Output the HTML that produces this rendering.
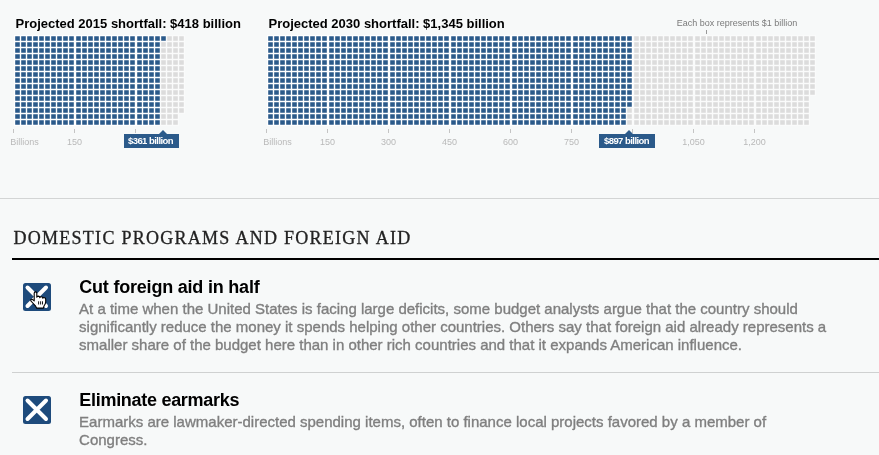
<!DOCTYPE html>
<html><head><meta charset="utf-8"><title>Budget Puzzle</title>
<style>
html,body{margin:0;padding:0;}
body{width:879px;height:455px;overflow:hidden;background:#f7f9f9;position:relative;font-family:"Liberation Sans",sans-serif;}
.charts{position:absolute;left:0;top:0;}
.t{position:absolute;top:16px;font-weight:bold;font-size:13px;line-height:16px;color:#000;white-space:nowrap;}
.note{position:absolute;left:676.8px;top:18px;font-size:9px;line-height:11px;color:#7a7a7a;white-space:nowrap;}
.ax{position:absolute;top:137px;font-size:9px;line-height:11px;color:#b9b9b9;white-space:nowrap;}
.ax.c{transform:translateX(-50%);}
.flag{position:absolute;top:134px;height:14px;background:#2b5a8a;color:#fff;font-weight:bold;font-size:9.5px;line-height:14px;letter-spacing:-0.55px;text-indent:-2px;text-align:center;white-space:nowrap;}
.flag i{position:absolute;top:-4px;width:0;height:0;border-left:4px solid transparent;border-right:4px solid transparent;border-bottom:4px solid #2b5a8a;}
.hr1{position:absolute;left:0;top:198px;width:879px;height:1px;background:#d3d5d5;}
h2{position:absolute;left:13.5px;top:228px;margin:0;font-family:"Liberation Serif",serif;font-weight:normal;font-size:18px;line-height:20px;letter-spacing:1.27px;color:#222;-webkit-text-stroke:0.3px #222;white-space:nowrap;}
.hr2{position:absolute;left:12px;top:258px;width:867px;height:2px;background:#000;}
.hr3{position:absolute;left:12px;top:372px;width:867px;height:1px;background:#cfd1d1;}
.icon{position:absolute;left:23px;width:28px;height:28px;}
h3{position:absolute;left:79.3px;margin:0;font-size:18px;line-height:20px;font-weight:bold;color:#000;letter-spacing:-0.21px;white-space:nowrap;}
p{position:absolute;left:79.1px;margin:0;font-size:15px;line-height:18px;color:#7f7f7f;width:790px;white-space:nowrap;-webkit-text-stroke:0.35px #7f7f7f;}
</style></head><body>
<svg class="charts" width="879" height="170" viewBox="0 0 879 170">
<path d="M14 35h7v7h-7zM14 41h7v7h-7zM14 47h7v7h-7zM14 53h7v7h-7zM14 59h7v7h-7zM14 65h7v7h-7zM14 71h7v7h-7zM14 77h7v7h-7zM14 83h7v7h-7zM14 89h7v7h-7zM14 95h7v7h-7zM14 101h7v7h-7zM14 107h7v7h-7zM14 113h7v7h-7zM14 119h7v7h-7zM20 35h7v7h-7zM20 41h7v7h-7zM20 47h7v7h-7zM20 53h7v7h-7zM20 59h7v7h-7zM20 65h7v7h-7zM20 71h7v7h-7zM20 77h7v7h-7zM20 83h7v7h-7zM20 89h7v7h-7zM20 95h7v7h-7zM20 101h7v7h-7zM20 107h7v7h-7zM20 113h7v7h-7zM20 119h7v7h-7zM26 35h7v7h-7zM26 41h7v7h-7zM26 47h7v7h-7zM26 53h7v7h-7zM26 59h7v7h-7zM26 65h7v7h-7zM26 71h7v7h-7zM26 77h7v7h-7zM26 83h7v7h-7zM26 89h7v7h-7zM26 95h7v7h-7zM26 101h7v7h-7zM26 107h7v7h-7zM26 113h7v7h-7zM26 119h7v7h-7zM32 35h7v7h-7zM32 41h7v7h-7zM32 47h7v7h-7zM32 53h7v7h-7zM32 59h7v7h-7zM32 65h7v7h-7zM32 71h7v7h-7zM32 77h7v7h-7zM32 83h7v7h-7zM32 89h7v7h-7zM32 95h7v7h-7zM32 101h7v7h-7zM32 107h7v7h-7zM32 113h7v7h-7zM32 119h7v7h-7zM38 35h7v7h-7zM38 41h7v7h-7zM38 47h7v7h-7zM38 53h7v7h-7zM38 59h7v7h-7zM38 65h7v7h-7zM38 71h7v7h-7zM38 77h7v7h-7zM38 83h7v7h-7zM38 89h7v7h-7zM38 95h7v7h-7zM38 101h7v7h-7zM38 107h7v7h-7zM38 113h7v7h-7zM38 119h7v7h-7zM44 35h7v7h-7zM44 41h7v7h-7zM44 47h7v7h-7zM44 53h7v7h-7zM44 59h7v7h-7zM44 65h7v7h-7zM44 71h7v7h-7zM44 77h7v7h-7zM44 83h7v7h-7zM44 89h7v7h-7zM44 95h7v7h-7zM44 101h7v7h-7zM44 107h7v7h-7zM44 113h7v7h-7zM44 119h7v7h-7zM50 35h7v7h-7zM50 41h7v7h-7zM50 47h7v7h-7zM50 53h7v7h-7zM50 59h7v7h-7zM50 65h7v7h-7zM50 71h7v7h-7zM50 77h7v7h-7zM50 83h7v7h-7zM50 89h7v7h-7zM50 95h7v7h-7zM50 101h7v7h-7zM50 107h7v7h-7zM50 113h7v7h-7zM50 119h7v7h-7zM56 35h7v7h-7zM56 41h7v7h-7zM56 47h7v7h-7zM56 53h7v7h-7zM56 59h7v7h-7zM56 65h7v7h-7zM56 71h7v7h-7zM56 77h7v7h-7zM56 83h7v7h-7zM56 89h7v7h-7zM56 95h7v7h-7zM56 101h7v7h-7zM56 107h7v7h-7zM56 113h7v7h-7zM56 119h7v7h-7zM62 35h7v7h-7zM62 41h7v7h-7zM62 47h7v7h-7zM62 53h7v7h-7zM62 59h7v7h-7zM62 65h7v7h-7zM62 71h7v7h-7zM62 77h7v7h-7zM62 83h7v7h-7zM62 89h7v7h-7zM62 95h7v7h-7zM62 101h7v7h-7zM62 107h7v7h-7zM62 113h7v7h-7zM62 119h7v7h-7zM68 35h7v7h-7zM68 41h7v7h-7zM68 47h7v7h-7zM68 53h7v7h-7zM68 59h7v7h-7zM68 65h7v7h-7zM68 71h7v7h-7zM68 77h7v7h-7zM68 83h7v7h-7zM68 89h7v7h-7zM68 95h7v7h-7zM68 101h7v7h-7zM68 107h7v7h-7zM68 113h7v7h-7zM68 119h7v7h-7zM75 35h7v7h-7zM75 41h7v7h-7zM75 47h7v7h-7zM75 53h7v7h-7zM75 59h7v7h-7zM75 65h7v7h-7zM75 71h7v7h-7zM75 77h7v7h-7zM75 83h7v7h-7zM75 89h7v7h-7zM75 95h7v7h-7zM75 101h7v7h-7zM75 107h7v7h-7zM75 113h7v7h-7zM75 119h7v7h-7zM81 35h7v7h-7zM81 41h7v7h-7zM81 47h7v7h-7zM81 53h7v7h-7zM81 59h7v7h-7zM81 65h7v7h-7zM81 71h7v7h-7zM81 77h7v7h-7zM81 83h7v7h-7zM81 89h7v7h-7zM81 95h7v7h-7zM81 101h7v7h-7zM81 107h7v7h-7zM81 113h7v7h-7zM81 119h7v7h-7zM87 35h7v7h-7zM87 41h7v7h-7zM87 47h7v7h-7zM87 53h7v7h-7zM87 59h7v7h-7zM87 65h7v7h-7zM87 71h7v7h-7zM87 77h7v7h-7zM87 83h7v7h-7zM87 89h7v7h-7zM87 95h7v7h-7zM87 101h7v7h-7zM87 107h7v7h-7zM87 113h7v7h-7zM87 119h7v7h-7zM93 35h7v7h-7zM93 41h7v7h-7zM93 47h7v7h-7zM93 53h7v7h-7zM93 59h7v7h-7zM93 65h7v7h-7zM93 71h7v7h-7zM93 77h7v7h-7zM93 83h7v7h-7zM93 89h7v7h-7zM93 95h7v7h-7zM93 101h7v7h-7zM93 107h7v7h-7zM93 113h7v7h-7zM93 119h7v7h-7zM99 35h7v7h-7zM99 41h7v7h-7zM99 47h7v7h-7zM99 53h7v7h-7zM99 59h7v7h-7zM99 65h7v7h-7zM99 71h7v7h-7zM99 77h7v7h-7zM99 83h7v7h-7zM99 89h7v7h-7zM99 95h7v7h-7zM99 101h7v7h-7zM99 107h7v7h-7zM99 113h7v7h-7zM99 119h7v7h-7zM105 35h7v7h-7zM105 41h7v7h-7zM105 47h7v7h-7zM105 53h7v7h-7zM105 59h7v7h-7zM105 65h7v7h-7zM105 71h7v7h-7zM105 77h7v7h-7zM105 83h7v7h-7zM105 89h7v7h-7zM105 95h7v7h-7zM105 101h7v7h-7zM105 107h7v7h-7zM105 113h7v7h-7zM105 119h7v7h-7zM111 35h7v7h-7zM111 41h7v7h-7zM111 47h7v7h-7zM111 53h7v7h-7zM111 59h7v7h-7zM111 65h7v7h-7zM111 71h7v7h-7zM111 77h7v7h-7zM111 83h7v7h-7zM111 89h7v7h-7zM111 95h7v7h-7zM111 101h7v7h-7zM111 107h7v7h-7zM111 113h7v7h-7zM111 119h7v7h-7zM117 35h7v7h-7zM117 41h7v7h-7zM117 47h7v7h-7zM117 53h7v7h-7zM117 59h7v7h-7zM117 65h7v7h-7zM117 71h7v7h-7zM117 77h7v7h-7zM117 83h7v7h-7zM117 89h7v7h-7zM117 95h7v7h-7zM117 101h7v7h-7zM117 107h7v7h-7zM117 113h7v7h-7zM117 119h7v7h-7zM123 35h7v7h-7zM123 41h7v7h-7zM123 47h7v7h-7zM123 53h7v7h-7zM123 59h7v7h-7zM123 65h7v7h-7zM123 71h7v7h-7zM123 77h7v7h-7zM123 83h7v7h-7zM123 89h7v7h-7zM123 95h7v7h-7zM123 101h7v7h-7zM123 107h7v7h-7zM123 113h7v7h-7zM123 119h7v7h-7zM129 35h7v7h-7zM129 41h7v7h-7zM129 47h7v7h-7zM129 53h7v7h-7zM129 59h7v7h-7zM129 65h7v7h-7zM129 71h7v7h-7zM129 77h7v7h-7zM129 83h7v7h-7zM129 89h7v7h-7zM129 95h7v7h-7zM129 101h7v7h-7zM129 107h7v7h-7zM129 113h7v7h-7zM129 119h7v7h-7zM136 35h7v7h-7zM136 41h7v7h-7zM136 47h7v7h-7zM136 53h7v7h-7zM136 59h7v7h-7zM136 65h7v7h-7zM136 71h7v7h-7zM136 77h7v7h-7zM136 83h7v7h-7zM136 89h7v7h-7zM136 95h7v7h-7zM136 101h7v7h-7zM136 107h7v7h-7zM136 113h7v7h-7zM136 119h7v7h-7zM142 35h7v7h-7zM142 41h7v7h-7zM142 47h7v7h-7zM142 53h7v7h-7zM142 59h7v7h-7zM142 65h7v7h-7zM142 71h7v7h-7zM142 77h7v7h-7zM142 83h7v7h-7zM142 89h7v7h-7zM142 95h7v7h-7zM142 101h7v7h-7zM142 107h7v7h-7zM142 113h7v7h-7zM142 119h7v7h-7zM148 35h7v7h-7zM148 41h7v7h-7zM148 47h7v7h-7zM148 53h7v7h-7zM148 59h7v7h-7zM148 65h7v7h-7zM148 71h7v7h-7zM148 77h7v7h-7zM148 83h7v7h-7zM148 89h7v7h-7zM148 95h7v7h-7zM148 101h7v7h-7zM148 107h7v7h-7zM148 113h7v7h-7zM148 119h7v7h-7zM154 35h7v7h-7zM154 41h7v7h-7zM154 47h7v7h-7zM154 53h7v7h-7zM154 59h7v7h-7zM154 65h7v7h-7zM154 71h7v7h-7zM154 77h7v7h-7zM154 83h7v7h-7zM154 89h7v7h-7zM154 95h7v7h-7zM154 101h7v7h-7zM154 107h7v7h-7zM154 113h7v7h-7zM154 119h7v7h-7zM160 35h7v7h-7z" fill="#ffffff"/>
<path d="M160 41h7v7h-7zM160 47h7v7h-7zM160 53h7v7h-7zM160 59h7v7h-7zM160 65h7v7h-7zM160 71h7v7h-7zM160 77h7v7h-7zM160 83h7v7h-7zM160 89h7v7h-7zM160 95h7v7h-7zM160 101h7v7h-7zM160 107h7v7h-7zM160 113h7v7h-7zM160 119h7v7h-7zM166 35h7v7h-7zM166 41h7v7h-7zM166 47h7v7h-7zM166 53h7v7h-7zM166 59h7v7h-7zM166 65h7v7h-7zM166 71h7v7h-7zM166 77h7v7h-7zM166 83h7v7h-7zM166 89h7v7h-7zM166 95h7v7h-7zM166 101h7v7h-7zM166 107h7v7h-7zM166 113h7v7h-7zM166 119h7v7h-7zM172 35h7v7h-7zM172 41h7v7h-7zM172 47h7v7h-7zM172 53h7v7h-7zM172 59h7v7h-7zM172 65h7v7h-7zM172 71h7v7h-7zM172 77h7v7h-7zM172 83h7v7h-7zM172 89h7v7h-7zM172 95h7v7h-7zM172 101h7v7h-7zM172 107h7v7h-7zM172 113h7v7h-7zM172 119h7v7h-7zM178 35h7v7h-7zM178 41h7v7h-7zM178 47h7v7h-7zM178 53h7v7h-7zM178 59h7v7h-7zM178 65h7v7h-7zM178 71h7v7h-7zM178 77h7v7h-7zM178 83h7v7h-7zM178 89h7v7h-7zM178 95h7v7h-7zM178 101h7v7h-7zM178 107h7v7h-7z" fill="#fafbfb"/>
<path d="M15.2 36.2h4.6v4.6h-4.6zM15.2 42.2h4.6v4.6h-4.6zM15.2 48.2h4.6v4.6h-4.6zM15.2 54.2h4.6v4.6h-4.6zM15.2 60.2h4.6v4.6h-4.6zM15.2 66.2h4.6v4.6h-4.6zM15.2 72.2h4.6v4.6h-4.6zM15.2 78.2h4.6v4.6h-4.6zM15.2 84.2h4.6v4.6h-4.6zM15.2 90.2h4.6v4.6h-4.6zM15.2 96.2h4.6v4.6h-4.6zM15.2 102.2h4.6v4.6h-4.6zM15.2 108.2h4.6v4.6h-4.6zM15.2 114.2h4.6v4.6h-4.6zM15.2 120.2h4.6v4.6h-4.6zM21.2 36.2h4.6v4.6h-4.6zM21.2 42.2h4.6v4.6h-4.6zM21.2 48.2h4.6v4.6h-4.6zM21.2 54.2h4.6v4.6h-4.6zM21.2 60.2h4.6v4.6h-4.6zM21.2 66.2h4.6v4.6h-4.6zM21.2 72.2h4.6v4.6h-4.6zM21.2 78.2h4.6v4.6h-4.6zM21.2 84.2h4.6v4.6h-4.6zM21.2 90.2h4.6v4.6h-4.6zM21.2 96.2h4.6v4.6h-4.6zM21.2 102.2h4.6v4.6h-4.6zM21.2 108.2h4.6v4.6h-4.6zM21.2 114.2h4.6v4.6h-4.6zM21.2 120.2h4.6v4.6h-4.6zM27.2 36.2h4.6v4.6h-4.6zM27.2 42.2h4.6v4.6h-4.6zM27.2 48.2h4.6v4.6h-4.6zM27.2 54.2h4.6v4.6h-4.6zM27.2 60.2h4.6v4.6h-4.6zM27.2 66.2h4.6v4.6h-4.6zM27.2 72.2h4.6v4.6h-4.6zM27.2 78.2h4.6v4.6h-4.6zM27.2 84.2h4.6v4.6h-4.6zM27.2 90.2h4.6v4.6h-4.6zM27.2 96.2h4.6v4.6h-4.6zM27.2 102.2h4.6v4.6h-4.6zM27.2 108.2h4.6v4.6h-4.6zM27.2 114.2h4.6v4.6h-4.6zM27.2 120.2h4.6v4.6h-4.6zM33.2 36.2h4.6v4.6h-4.6zM33.2 42.2h4.6v4.6h-4.6zM33.2 48.2h4.6v4.6h-4.6zM33.2 54.2h4.6v4.6h-4.6zM33.2 60.2h4.6v4.6h-4.6zM33.2 66.2h4.6v4.6h-4.6zM33.2 72.2h4.6v4.6h-4.6zM33.2 78.2h4.6v4.6h-4.6zM33.2 84.2h4.6v4.6h-4.6zM33.2 90.2h4.6v4.6h-4.6zM33.2 96.2h4.6v4.6h-4.6zM33.2 102.2h4.6v4.6h-4.6zM33.2 108.2h4.6v4.6h-4.6zM33.2 114.2h4.6v4.6h-4.6zM33.2 120.2h4.6v4.6h-4.6zM39.2 36.2h4.6v4.6h-4.6zM39.2 42.2h4.6v4.6h-4.6zM39.2 48.2h4.6v4.6h-4.6zM39.2 54.2h4.6v4.6h-4.6zM39.2 60.2h4.6v4.6h-4.6zM39.2 66.2h4.6v4.6h-4.6zM39.2 72.2h4.6v4.6h-4.6zM39.2 78.2h4.6v4.6h-4.6zM39.2 84.2h4.6v4.6h-4.6zM39.2 90.2h4.6v4.6h-4.6zM39.2 96.2h4.6v4.6h-4.6zM39.2 102.2h4.6v4.6h-4.6zM39.2 108.2h4.6v4.6h-4.6zM39.2 114.2h4.6v4.6h-4.6zM39.2 120.2h4.6v4.6h-4.6zM45.2 36.2h4.6v4.6h-4.6zM45.2 42.2h4.6v4.6h-4.6zM45.2 48.2h4.6v4.6h-4.6zM45.2 54.2h4.6v4.6h-4.6zM45.2 60.2h4.6v4.6h-4.6zM45.2 66.2h4.6v4.6h-4.6zM45.2 72.2h4.6v4.6h-4.6zM45.2 78.2h4.6v4.6h-4.6zM45.2 84.2h4.6v4.6h-4.6zM45.2 90.2h4.6v4.6h-4.6zM45.2 96.2h4.6v4.6h-4.6zM45.2 102.2h4.6v4.6h-4.6zM45.2 108.2h4.6v4.6h-4.6zM45.2 114.2h4.6v4.6h-4.6zM45.2 120.2h4.6v4.6h-4.6zM51.2 36.2h4.6v4.6h-4.6zM51.2 42.2h4.6v4.6h-4.6zM51.2 48.2h4.6v4.6h-4.6zM51.2 54.2h4.6v4.6h-4.6zM51.2 60.2h4.6v4.6h-4.6zM51.2 66.2h4.6v4.6h-4.6zM51.2 72.2h4.6v4.6h-4.6zM51.2 78.2h4.6v4.6h-4.6zM51.2 84.2h4.6v4.6h-4.6zM51.2 90.2h4.6v4.6h-4.6zM51.2 96.2h4.6v4.6h-4.6zM51.2 102.2h4.6v4.6h-4.6zM51.2 108.2h4.6v4.6h-4.6zM51.2 114.2h4.6v4.6h-4.6zM51.2 120.2h4.6v4.6h-4.6zM57.2 36.2h4.6v4.6h-4.6zM57.2 42.2h4.6v4.6h-4.6zM57.2 48.2h4.6v4.6h-4.6zM57.2 54.2h4.6v4.6h-4.6zM57.2 60.2h4.6v4.6h-4.6zM57.2 66.2h4.6v4.6h-4.6zM57.2 72.2h4.6v4.6h-4.6zM57.2 78.2h4.6v4.6h-4.6zM57.2 84.2h4.6v4.6h-4.6zM57.2 90.2h4.6v4.6h-4.6zM57.2 96.2h4.6v4.6h-4.6zM57.2 102.2h4.6v4.6h-4.6zM57.2 108.2h4.6v4.6h-4.6zM57.2 114.2h4.6v4.6h-4.6zM57.2 120.2h4.6v4.6h-4.6zM63.2 36.2h4.6v4.6h-4.6zM63.2 42.2h4.6v4.6h-4.6zM63.2 48.2h4.6v4.6h-4.6zM63.2 54.2h4.6v4.6h-4.6zM63.2 60.2h4.6v4.6h-4.6zM63.2 66.2h4.6v4.6h-4.6zM63.2 72.2h4.6v4.6h-4.6zM63.2 78.2h4.6v4.6h-4.6zM63.2 84.2h4.6v4.6h-4.6zM63.2 90.2h4.6v4.6h-4.6zM63.2 96.2h4.6v4.6h-4.6zM63.2 102.2h4.6v4.6h-4.6zM63.2 108.2h4.6v4.6h-4.6zM63.2 114.2h4.6v4.6h-4.6zM63.2 120.2h4.6v4.6h-4.6zM69.2 36.2h4.6v4.6h-4.6zM69.2 42.2h4.6v4.6h-4.6zM69.2 48.2h4.6v4.6h-4.6zM69.2 54.2h4.6v4.6h-4.6zM69.2 60.2h4.6v4.6h-4.6zM69.2 66.2h4.6v4.6h-4.6zM69.2 72.2h4.6v4.6h-4.6zM69.2 78.2h4.6v4.6h-4.6zM69.2 84.2h4.6v4.6h-4.6zM69.2 90.2h4.6v4.6h-4.6zM69.2 96.2h4.6v4.6h-4.6zM69.2 102.2h4.6v4.6h-4.6zM69.2 108.2h4.6v4.6h-4.6zM69.2 114.2h4.6v4.6h-4.6zM69.2 120.2h4.6v4.6h-4.6zM76.2 36.2h4.6v4.6h-4.6zM76.2 42.2h4.6v4.6h-4.6zM76.2 48.2h4.6v4.6h-4.6zM76.2 54.2h4.6v4.6h-4.6zM76.2 60.2h4.6v4.6h-4.6zM76.2 66.2h4.6v4.6h-4.6zM76.2 72.2h4.6v4.6h-4.6zM76.2 78.2h4.6v4.6h-4.6zM76.2 84.2h4.6v4.6h-4.6zM76.2 90.2h4.6v4.6h-4.6zM76.2 96.2h4.6v4.6h-4.6zM76.2 102.2h4.6v4.6h-4.6zM76.2 108.2h4.6v4.6h-4.6zM76.2 114.2h4.6v4.6h-4.6zM76.2 120.2h4.6v4.6h-4.6zM82.2 36.2h4.6v4.6h-4.6zM82.2 42.2h4.6v4.6h-4.6zM82.2 48.2h4.6v4.6h-4.6zM82.2 54.2h4.6v4.6h-4.6zM82.2 60.2h4.6v4.6h-4.6zM82.2 66.2h4.6v4.6h-4.6zM82.2 72.2h4.6v4.6h-4.6zM82.2 78.2h4.6v4.6h-4.6zM82.2 84.2h4.6v4.6h-4.6zM82.2 90.2h4.6v4.6h-4.6zM82.2 96.2h4.6v4.6h-4.6zM82.2 102.2h4.6v4.6h-4.6zM82.2 108.2h4.6v4.6h-4.6zM82.2 114.2h4.6v4.6h-4.6zM82.2 120.2h4.6v4.6h-4.6zM88.2 36.2h4.6v4.6h-4.6zM88.2 42.2h4.6v4.6h-4.6zM88.2 48.2h4.6v4.6h-4.6zM88.2 54.2h4.6v4.6h-4.6zM88.2 60.2h4.6v4.6h-4.6zM88.2 66.2h4.6v4.6h-4.6zM88.2 72.2h4.6v4.6h-4.6zM88.2 78.2h4.6v4.6h-4.6zM88.2 84.2h4.6v4.6h-4.6zM88.2 90.2h4.6v4.6h-4.6zM88.2 96.2h4.6v4.6h-4.6zM88.2 102.2h4.6v4.6h-4.6zM88.2 108.2h4.6v4.6h-4.6zM88.2 114.2h4.6v4.6h-4.6zM88.2 120.2h4.6v4.6h-4.6zM94.2 36.2h4.6v4.6h-4.6zM94.2 42.2h4.6v4.6h-4.6zM94.2 48.2h4.6v4.6h-4.6zM94.2 54.2h4.6v4.6h-4.6zM94.2 60.2h4.6v4.6h-4.6zM94.2 66.2h4.6v4.6h-4.6zM94.2 72.2h4.6v4.6h-4.6zM94.2 78.2h4.6v4.6h-4.6zM94.2 84.2h4.6v4.6h-4.6zM94.2 90.2h4.6v4.6h-4.6zM94.2 96.2h4.6v4.6h-4.6zM94.2 102.2h4.6v4.6h-4.6zM94.2 108.2h4.6v4.6h-4.6zM94.2 114.2h4.6v4.6h-4.6zM94.2 120.2h4.6v4.6h-4.6zM100.2 36.2h4.6v4.6h-4.6zM100.2 42.2h4.6v4.6h-4.6zM100.2 48.2h4.6v4.6h-4.6zM100.2 54.2h4.6v4.6h-4.6zM100.2 60.2h4.6v4.6h-4.6zM100.2 66.2h4.6v4.6h-4.6zM100.2 72.2h4.6v4.6h-4.6zM100.2 78.2h4.6v4.6h-4.6zM100.2 84.2h4.6v4.6h-4.6zM100.2 90.2h4.6v4.6h-4.6zM100.2 96.2h4.6v4.6h-4.6zM100.2 102.2h4.6v4.6h-4.6zM100.2 108.2h4.6v4.6h-4.6zM100.2 114.2h4.6v4.6h-4.6zM100.2 120.2h4.6v4.6h-4.6zM106.2 36.2h4.6v4.6h-4.6zM106.2 42.2h4.6v4.6h-4.6zM106.2 48.2h4.6v4.6h-4.6zM106.2 54.2h4.6v4.6h-4.6zM106.2 60.2h4.6v4.6h-4.6zM106.2 66.2h4.6v4.6h-4.6zM106.2 72.2h4.6v4.6h-4.6zM106.2 78.2h4.6v4.6h-4.6zM106.2 84.2h4.6v4.6h-4.6zM106.2 90.2h4.6v4.6h-4.6zM106.2 96.2h4.6v4.6h-4.6zM106.2 102.2h4.6v4.6h-4.6zM106.2 108.2h4.6v4.6h-4.6zM106.2 114.2h4.6v4.6h-4.6zM106.2 120.2h4.6v4.6h-4.6zM112.2 36.2h4.6v4.6h-4.6zM112.2 42.2h4.6v4.6h-4.6zM112.2 48.2h4.6v4.6h-4.6zM112.2 54.2h4.6v4.6h-4.6zM112.2 60.2h4.6v4.6h-4.6zM112.2 66.2h4.6v4.6h-4.6zM112.2 72.2h4.6v4.6h-4.6zM112.2 78.2h4.6v4.6h-4.6zM112.2 84.2h4.6v4.6h-4.6zM112.2 90.2h4.6v4.6h-4.6zM112.2 96.2h4.6v4.6h-4.6zM112.2 102.2h4.6v4.6h-4.6zM112.2 108.2h4.6v4.6h-4.6zM112.2 114.2h4.6v4.6h-4.6zM112.2 120.2h4.6v4.6h-4.6zM118.2 36.2h4.6v4.6h-4.6zM118.2 42.2h4.6v4.6h-4.6zM118.2 48.2h4.6v4.6h-4.6zM118.2 54.2h4.6v4.6h-4.6zM118.2 60.2h4.6v4.6h-4.6zM118.2 66.2h4.6v4.6h-4.6zM118.2 72.2h4.6v4.6h-4.6zM118.2 78.2h4.6v4.6h-4.6zM118.2 84.2h4.6v4.6h-4.6zM118.2 90.2h4.6v4.6h-4.6zM118.2 96.2h4.6v4.6h-4.6zM118.2 102.2h4.6v4.6h-4.6zM118.2 108.2h4.6v4.6h-4.6zM118.2 114.2h4.6v4.6h-4.6zM118.2 120.2h4.6v4.6h-4.6zM124.2 36.2h4.6v4.6h-4.6zM124.2 42.2h4.6v4.6h-4.6zM124.2 48.2h4.6v4.6h-4.6zM124.2 54.2h4.6v4.6h-4.6zM124.2 60.2h4.6v4.6h-4.6zM124.2 66.2h4.6v4.6h-4.6zM124.2 72.2h4.6v4.6h-4.6zM124.2 78.2h4.6v4.6h-4.6zM124.2 84.2h4.6v4.6h-4.6zM124.2 90.2h4.6v4.6h-4.6zM124.2 96.2h4.6v4.6h-4.6zM124.2 102.2h4.6v4.6h-4.6zM124.2 108.2h4.6v4.6h-4.6zM124.2 114.2h4.6v4.6h-4.6zM124.2 120.2h4.6v4.6h-4.6zM130.2 36.2h4.6v4.6h-4.6zM130.2 42.2h4.6v4.6h-4.6zM130.2 48.2h4.6v4.6h-4.6zM130.2 54.2h4.6v4.6h-4.6zM130.2 60.2h4.6v4.6h-4.6zM130.2 66.2h4.6v4.6h-4.6zM130.2 72.2h4.6v4.6h-4.6zM130.2 78.2h4.6v4.6h-4.6zM130.2 84.2h4.6v4.6h-4.6zM130.2 90.2h4.6v4.6h-4.6zM130.2 96.2h4.6v4.6h-4.6zM130.2 102.2h4.6v4.6h-4.6zM130.2 108.2h4.6v4.6h-4.6zM130.2 114.2h4.6v4.6h-4.6zM130.2 120.2h4.6v4.6h-4.6zM137.2 36.2h4.6v4.6h-4.6zM137.2 42.2h4.6v4.6h-4.6zM137.2 48.2h4.6v4.6h-4.6zM137.2 54.2h4.6v4.6h-4.6zM137.2 60.2h4.6v4.6h-4.6zM137.2 66.2h4.6v4.6h-4.6zM137.2 72.2h4.6v4.6h-4.6zM137.2 78.2h4.6v4.6h-4.6zM137.2 84.2h4.6v4.6h-4.6zM137.2 90.2h4.6v4.6h-4.6zM137.2 96.2h4.6v4.6h-4.6zM137.2 102.2h4.6v4.6h-4.6zM137.2 108.2h4.6v4.6h-4.6zM137.2 114.2h4.6v4.6h-4.6zM137.2 120.2h4.6v4.6h-4.6zM143.2 36.2h4.6v4.6h-4.6zM143.2 42.2h4.6v4.6h-4.6zM143.2 48.2h4.6v4.6h-4.6zM143.2 54.2h4.6v4.6h-4.6zM143.2 60.2h4.6v4.6h-4.6zM143.2 66.2h4.6v4.6h-4.6zM143.2 72.2h4.6v4.6h-4.6zM143.2 78.2h4.6v4.6h-4.6zM143.2 84.2h4.6v4.6h-4.6zM143.2 90.2h4.6v4.6h-4.6zM143.2 96.2h4.6v4.6h-4.6zM143.2 102.2h4.6v4.6h-4.6zM143.2 108.2h4.6v4.6h-4.6zM143.2 114.2h4.6v4.6h-4.6zM143.2 120.2h4.6v4.6h-4.6zM149.2 36.2h4.6v4.6h-4.6zM149.2 42.2h4.6v4.6h-4.6zM149.2 48.2h4.6v4.6h-4.6zM149.2 54.2h4.6v4.6h-4.6zM149.2 60.2h4.6v4.6h-4.6zM149.2 66.2h4.6v4.6h-4.6zM149.2 72.2h4.6v4.6h-4.6zM149.2 78.2h4.6v4.6h-4.6zM149.2 84.2h4.6v4.6h-4.6zM149.2 90.2h4.6v4.6h-4.6zM149.2 96.2h4.6v4.6h-4.6zM149.2 102.2h4.6v4.6h-4.6zM149.2 108.2h4.6v4.6h-4.6zM149.2 114.2h4.6v4.6h-4.6zM149.2 120.2h4.6v4.6h-4.6zM155.2 36.2h4.6v4.6h-4.6zM155.2 42.2h4.6v4.6h-4.6zM155.2 48.2h4.6v4.6h-4.6zM155.2 54.2h4.6v4.6h-4.6zM155.2 60.2h4.6v4.6h-4.6zM155.2 66.2h4.6v4.6h-4.6zM155.2 72.2h4.6v4.6h-4.6zM155.2 78.2h4.6v4.6h-4.6zM155.2 84.2h4.6v4.6h-4.6zM155.2 90.2h4.6v4.6h-4.6zM155.2 96.2h4.6v4.6h-4.6zM155.2 102.2h4.6v4.6h-4.6zM155.2 108.2h4.6v4.6h-4.6zM155.2 114.2h4.6v4.6h-4.6zM155.2 120.2h4.6v4.6h-4.6zM161.2 36.2h4.6v4.6h-4.6z" fill="#2b5a8a"/>
<path d="M161.2 42.2h4.6v4.6h-4.6zM161.2 48.2h4.6v4.6h-4.6zM161.2 54.2h4.6v4.6h-4.6zM161.2 60.2h4.6v4.6h-4.6zM161.2 66.2h4.6v4.6h-4.6zM161.2 72.2h4.6v4.6h-4.6zM161.2 78.2h4.6v4.6h-4.6zM161.2 84.2h4.6v4.6h-4.6zM161.2 90.2h4.6v4.6h-4.6zM161.2 96.2h4.6v4.6h-4.6zM161.2 102.2h4.6v4.6h-4.6zM161.2 108.2h4.6v4.6h-4.6zM161.2 114.2h4.6v4.6h-4.6zM161.2 120.2h4.6v4.6h-4.6zM167.2 36.2h4.6v4.6h-4.6zM167.2 42.2h4.6v4.6h-4.6zM167.2 48.2h4.6v4.6h-4.6zM167.2 54.2h4.6v4.6h-4.6zM167.2 60.2h4.6v4.6h-4.6zM167.2 66.2h4.6v4.6h-4.6zM167.2 72.2h4.6v4.6h-4.6zM167.2 78.2h4.6v4.6h-4.6zM167.2 84.2h4.6v4.6h-4.6zM167.2 90.2h4.6v4.6h-4.6zM167.2 96.2h4.6v4.6h-4.6zM167.2 102.2h4.6v4.6h-4.6zM167.2 108.2h4.6v4.6h-4.6zM167.2 114.2h4.6v4.6h-4.6zM167.2 120.2h4.6v4.6h-4.6zM173.2 36.2h4.6v4.6h-4.6zM173.2 42.2h4.6v4.6h-4.6zM173.2 48.2h4.6v4.6h-4.6zM173.2 54.2h4.6v4.6h-4.6zM173.2 60.2h4.6v4.6h-4.6zM173.2 66.2h4.6v4.6h-4.6zM173.2 72.2h4.6v4.6h-4.6zM173.2 78.2h4.6v4.6h-4.6zM173.2 84.2h4.6v4.6h-4.6zM173.2 90.2h4.6v4.6h-4.6zM173.2 96.2h4.6v4.6h-4.6zM173.2 102.2h4.6v4.6h-4.6zM173.2 108.2h4.6v4.6h-4.6zM173.2 114.2h4.6v4.6h-4.6zM173.2 120.2h4.6v4.6h-4.6zM179.2 36.2h4.6v4.6h-4.6zM179.2 42.2h4.6v4.6h-4.6zM179.2 48.2h4.6v4.6h-4.6zM179.2 54.2h4.6v4.6h-4.6zM179.2 60.2h4.6v4.6h-4.6zM179.2 66.2h4.6v4.6h-4.6zM179.2 72.2h4.6v4.6h-4.6zM179.2 78.2h4.6v4.6h-4.6zM179.2 84.2h4.6v4.6h-4.6zM179.2 90.2h4.6v4.6h-4.6zM179.2 96.2h4.6v4.6h-4.6zM179.2 102.2h4.6v4.6h-4.6zM179.2 108.2h4.6v4.6h-4.6z" fill="#dcdcdc"/>
<path d="M267 35h7v7h-7zM267 41h7v7h-7zM267 47h7v7h-7zM267 53h7v7h-7zM267 59h7v7h-7zM267 65h7v7h-7zM267 71h7v7h-7zM267 77h7v7h-7zM267 83h7v7h-7zM267 89h7v7h-7zM267 95h7v7h-7zM267 101h7v7h-7zM267 107h7v7h-7zM267 113h7v7h-7zM267 119h7v7h-7zM273 35h7v7h-7zM273 41h7v7h-7zM273 47h7v7h-7zM273 53h7v7h-7zM273 59h7v7h-7zM273 65h7v7h-7zM273 71h7v7h-7zM273 77h7v7h-7zM273 83h7v7h-7zM273 89h7v7h-7zM273 95h7v7h-7zM273 101h7v7h-7zM273 107h7v7h-7zM273 113h7v7h-7zM273 119h7v7h-7zM279 35h7v7h-7zM279 41h7v7h-7zM279 47h7v7h-7zM279 53h7v7h-7zM279 59h7v7h-7zM279 65h7v7h-7zM279 71h7v7h-7zM279 77h7v7h-7zM279 83h7v7h-7zM279 89h7v7h-7zM279 95h7v7h-7zM279 101h7v7h-7zM279 107h7v7h-7zM279 113h7v7h-7zM279 119h7v7h-7zM285 35h7v7h-7zM285 41h7v7h-7zM285 47h7v7h-7zM285 53h7v7h-7zM285 59h7v7h-7zM285 65h7v7h-7zM285 71h7v7h-7zM285 77h7v7h-7zM285 83h7v7h-7zM285 89h7v7h-7zM285 95h7v7h-7zM285 101h7v7h-7zM285 107h7v7h-7zM285 113h7v7h-7zM285 119h7v7h-7zM291 35h7v7h-7zM291 41h7v7h-7zM291 47h7v7h-7zM291 53h7v7h-7zM291 59h7v7h-7zM291 65h7v7h-7zM291 71h7v7h-7zM291 77h7v7h-7zM291 83h7v7h-7zM291 89h7v7h-7zM291 95h7v7h-7zM291 101h7v7h-7zM291 107h7v7h-7zM291 113h7v7h-7zM291 119h7v7h-7zM297 35h7v7h-7zM297 41h7v7h-7zM297 47h7v7h-7zM297 53h7v7h-7zM297 59h7v7h-7zM297 65h7v7h-7zM297 71h7v7h-7zM297 77h7v7h-7zM297 83h7v7h-7zM297 89h7v7h-7zM297 95h7v7h-7zM297 101h7v7h-7zM297 107h7v7h-7zM297 113h7v7h-7zM297 119h7v7h-7zM303 35h7v7h-7zM303 41h7v7h-7zM303 47h7v7h-7zM303 53h7v7h-7zM303 59h7v7h-7zM303 65h7v7h-7zM303 71h7v7h-7zM303 77h7v7h-7zM303 83h7v7h-7zM303 89h7v7h-7zM303 95h7v7h-7zM303 101h7v7h-7zM303 107h7v7h-7zM303 113h7v7h-7zM303 119h7v7h-7zM309 35h7v7h-7zM309 41h7v7h-7zM309 47h7v7h-7zM309 53h7v7h-7zM309 59h7v7h-7zM309 65h7v7h-7zM309 71h7v7h-7zM309 77h7v7h-7zM309 83h7v7h-7zM309 89h7v7h-7zM309 95h7v7h-7zM309 101h7v7h-7zM309 107h7v7h-7zM309 113h7v7h-7zM309 119h7v7h-7zM315 35h7v7h-7zM315 41h7v7h-7zM315 47h7v7h-7zM315 53h7v7h-7zM315 59h7v7h-7zM315 65h7v7h-7zM315 71h7v7h-7zM315 77h7v7h-7zM315 83h7v7h-7zM315 89h7v7h-7zM315 95h7v7h-7zM315 101h7v7h-7zM315 107h7v7h-7zM315 113h7v7h-7zM315 119h7v7h-7zM321 35h7v7h-7zM321 41h7v7h-7zM321 47h7v7h-7zM321 53h7v7h-7zM321 59h7v7h-7zM321 65h7v7h-7zM321 71h7v7h-7zM321 77h7v7h-7zM321 83h7v7h-7zM321 89h7v7h-7zM321 95h7v7h-7zM321 101h7v7h-7zM321 107h7v7h-7zM321 113h7v7h-7zM321 119h7v7h-7zM328 35h7v7h-7zM328 41h7v7h-7zM328 47h7v7h-7zM328 53h7v7h-7zM328 59h7v7h-7zM328 65h7v7h-7zM328 71h7v7h-7zM328 77h7v7h-7zM328 83h7v7h-7zM328 89h7v7h-7zM328 95h7v7h-7zM328 101h7v7h-7zM328 107h7v7h-7zM328 113h7v7h-7zM328 119h7v7h-7zM334 35h7v7h-7zM334 41h7v7h-7zM334 47h7v7h-7zM334 53h7v7h-7zM334 59h7v7h-7zM334 65h7v7h-7zM334 71h7v7h-7zM334 77h7v7h-7zM334 83h7v7h-7zM334 89h7v7h-7zM334 95h7v7h-7zM334 101h7v7h-7zM334 107h7v7h-7zM334 113h7v7h-7zM334 119h7v7h-7zM340 35h7v7h-7zM340 41h7v7h-7zM340 47h7v7h-7zM340 53h7v7h-7zM340 59h7v7h-7zM340 65h7v7h-7zM340 71h7v7h-7zM340 77h7v7h-7zM340 83h7v7h-7zM340 89h7v7h-7zM340 95h7v7h-7zM340 101h7v7h-7zM340 107h7v7h-7zM340 113h7v7h-7zM340 119h7v7h-7zM346 35h7v7h-7zM346 41h7v7h-7zM346 47h7v7h-7zM346 53h7v7h-7zM346 59h7v7h-7zM346 65h7v7h-7zM346 71h7v7h-7zM346 77h7v7h-7zM346 83h7v7h-7zM346 89h7v7h-7zM346 95h7v7h-7zM346 101h7v7h-7zM346 107h7v7h-7zM346 113h7v7h-7zM346 119h7v7h-7zM352 35h7v7h-7zM352 41h7v7h-7zM352 47h7v7h-7zM352 53h7v7h-7zM352 59h7v7h-7zM352 65h7v7h-7zM352 71h7v7h-7zM352 77h7v7h-7zM352 83h7v7h-7zM352 89h7v7h-7zM352 95h7v7h-7zM352 101h7v7h-7zM352 107h7v7h-7zM352 113h7v7h-7zM352 119h7v7h-7zM358 35h7v7h-7zM358 41h7v7h-7zM358 47h7v7h-7zM358 53h7v7h-7zM358 59h7v7h-7zM358 65h7v7h-7zM358 71h7v7h-7zM358 77h7v7h-7zM358 83h7v7h-7zM358 89h7v7h-7zM358 95h7v7h-7zM358 101h7v7h-7zM358 107h7v7h-7zM358 113h7v7h-7zM358 119h7v7h-7zM364 35h7v7h-7zM364 41h7v7h-7zM364 47h7v7h-7zM364 53h7v7h-7zM364 59h7v7h-7zM364 65h7v7h-7zM364 71h7v7h-7zM364 77h7v7h-7zM364 83h7v7h-7zM364 89h7v7h-7zM364 95h7v7h-7zM364 101h7v7h-7zM364 107h7v7h-7zM364 113h7v7h-7zM364 119h7v7h-7zM370 35h7v7h-7zM370 41h7v7h-7zM370 47h7v7h-7zM370 53h7v7h-7zM370 59h7v7h-7zM370 65h7v7h-7zM370 71h7v7h-7zM370 77h7v7h-7zM370 83h7v7h-7zM370 89h7v7h-7zM370 95h7v7h-7zM370 101h7v7h-7zM370 107h7v7h-7zM370 113h7v7h-7zM370 119h7v7h-7zM376 35h7v7h-7zM376 41h7v7h-7zM376 47h7v7h-7zM376 53h7v7h-7zM376 59h7v7h-7zM376 65h7v7h-7zM376 71h7v7h-7zM376 77h7v7h-7zM376 83h7v7h-7zM376 89h7v7h-7zM376 95h7v7h-7zM376 101h7v7h-7zM376 107h7v7h-7zM376 113h7v7h-7zM376 119h7v7h-7zM382 35h7v7h-7zM382 41h7v7h-7zM382 47h7v7h-7zM382 53h7v7h-7zM382 59h7v7h-7zM382 65h7v7h-7zM382 71h7v7h-7zM382 77h7v7h-7zM382 83h7v7h-7zM382 89h7v7h-7zM382 95h7v7h-7zM382 101h7v7h-7zM382 107h7v7h-7zM382 113h7v7h-7zM382 119h7v7h-7zM389 35h7v7h-7zM389 41h7v7h-7zM389 47h7v7h-7zM389 53h7v7h-7zM389 59h7v7h-7zM389 65h7v7h-7zM389 71h7v7h-7zM389 77h7v7h-7zM389 83h7v7h-7zM389 89h7v7h-7zM389 95h7v7h-7zM389 101h7v7h-7zM389 107h7v7h-7zM389 113h7v7h-7zM389 119h7v7h-7zM395 35h7v7h-7zM395 41h7v7h-7zM395 47h7v7h-7zM395 53h7v7h-7zM395 59h7v7h-7zM395 65h7v7h-7zM395 71h7v7h-7zM395 77h7v7h-7zM395 83h7v7h-7zM395 89h7v7h-7zM395 95h7v7h-7zM395 101h7v7h-7zM395 107h7v7h-7zM395 113h7v7h-7zM395 119h7v7h-7zM401 35h7v7h-7zM401 41h7v7h-7zM401 47h7v7h-7zM401 53h7v7h-7zM401 59h7v7h-7zM401 65h7v7h-7zM401 71h7v7h-7zM401 77h7v7h-7zM401 83h7v7h-7zM401 89h7v7h-7zM401 95h7v7h-7zM401 101h7v7h-7zM401 107h7v7h-7zM401 113h7v7h-7zM401 119h7v7h-7zM407 35h7v7h-7zM407 41h7v7h-7zM407 47h7v7h-7zM407 53h7v7h-7zM407 59h7v7h-7zM407 65h7v7h-7zM407 71h7v7h-7zM407 77h7v7h-7zM407 83h7v7h-7zM407 89h7v7h-7zM407 95h7v7h-7zM407 101h7v7h-7zM407 107h7v7h-7zM407 113h7v7h-7zM407 119h7v7h-7zM413 35h7v7h-7zM413 41h7v7h-7zM413 47h7v7h-7zM413 53h7v7h-7zM413 59h7v7h-7zM413 65h7v7h-7zM413 71h7v7h-7zM413 77h7v7h-7zM413 83h7v7h-7zM413 89h7v7h-7zM413 95h7v7h-7zM413 101h7v7h-7zM413 107h7v7h-7zM413 113h7v7h-7zM413 119h7v7h-7zM419 35h7v7h-7zM419 41h7v7h-7zM419 47h7v7h-7zM419 53h7v7h-7zM419 59h7v7h-7zM419 65h7v7h-7zM419 71h7v7h-7zM419 77h7v7h-7zM419 83h7v7h-7zM419 89h7v7h-7zM419 95h7v7h-7zM419 101h7v7h-7zM419 107h7v7h-7zM419 113h7v7h-7zM419 119h7v7h-7zM425 35h7v7h-7zM425 41h7v7h-7zM425 47h7v7h-7zM425 53h7v7h-7zM425 59h7v7h-7zM425 65h7v7h-7zM425 71h7v7h-7zM425 77h7v7h-7zM425 83h7v7h-7zM425 89h7v7h-7zM425 95h7v7h-7zM425 101h7v7h-7zM425 107h7v7h-7zM425 113h7v7h-7zM425 119h7v7h-7zM431 35h7v7h-7zM431 41h7v7h-7zM431 47h7v7h-7zM431 53h7v7h-7zM431 59h7v7h-7zM431 65h7v7h-7zM431 71h7v7h-7zM431 77h7v7h-7zM431 83h7v7h-7zM431 89h7v7h-7zM431 95h7v7h-7zM431 101h7v7h-7zM431 107h7v7h-7zM431 113h7v7h-7zM431 119h7v7h-7zM437 35h7v7h-7zM437 41h7v7h-7zM437 47h7v7h-7zM437 53h7v7h-7zM437 59h7v7h-7zM437 65h7v7h-7zM437 71h7v7h-7zM437 77h7v7h-7zM437 83h7v7h-7zM437 89h7v7h-7zM437 95h7v7h-7zM437 101h7v7h-7zM437 107h7v7h-7zM437 113h7v7h-7zM437 119h7v7h-7zM443 35h7v7h-7zM443 41h7v7h-7zM443 47h7v7h-7zM443 53h7v7h-7zM443 59h7v7h-7zM443 65h7v7h-7zM443 71h7v7h-7zM443 77h7v7h-7zM443 83h7v7h-7zM443 89h7v7h-7zM443 95h7v7h-7zM443 101h7v7h-7zM443 107h7v7h-7zM443 113h7v7h-7zM443 119h7v7h-7zM450 35h7v7h-7zM450 41h7v7h-7zM450 47h7v7h-7zM450 53h7v7h-7zM450 59h7v7h-7zM450 65h7v7h-7zM450 71h7v7h-7zM450 77h7v7h-7zM450 83h7v7h-7zM450 89h7v7h-7zM450 95h7v7h-7zM450 101h7v7h-7zM450 107h7v7h-7zM450 113h7v7h-7zM450 119h7v7h-7zM456 35h7v7h-7zM456 41h7v7h-7zM456 47h7v7h-7zM456 53h7v7h-7zM456 59h7v7h-7zM456 65h7v7h-7zM456 71h7v7h-7zM456 77h7v7h-7zM456 83h7v7h-7zM456 89h7v7h-7zM456 95h7v7h-7zM456 101h7v7h-7zM456 107h7v7h-7zM456 113h7v7h-7zM456 119h7v7h-7zM462 35h7v7h-7zM462 41h7v7h-7zM462 47h7v7h-7zM462 53h7v7h-7zM462 59h7v7h-7zM462 65h7v7h-7zM462 71h7v7h-7zM462 77h7v7h-7zM462 83h7v7h-7zM462 89h7v7h-7zM462 95h7v7h-7zM462 101h7v7h-7zM462 107h7v7h-7zM462 113h7v7h-7zM462 119h7v7h-7zM468 35h7v7h-7zM468 41h7v7h-7zM468 47h7v7h-7zM468 53h7v7h-7zM468 59h7v7h-7zM468 65h7v7h-7zM468 71h7v7h-7zM468 77h7v7h-7zM468 83h7v7h-7zM468 89h7v7h-7zM468 95h7v7h-7zM468 101h7v7h-7zM468 107h7v7h-7zM468 113h7v7h-7zM468 119h7v7h-7zM474 35h7v7h-7zM474 41h7v7h-7zM474 47h7v7h-7zM474 53h7v7h-7zM474 59h7v7h-7zM474 65h7v7h-7zM474 71h7v7h-7zM474 77h7v7h-7zM474 83h7v7h-7zM474 89h7v7h-7zM474 95h7v7h-7zM474 101h7v7h-7zM474 107h7v7h-7zM474 113h7v7h-7zM474 119h7v7h-7zM480 35h7v7h-7zM480 41h7v7h-7zM480 47h7v7h-7zM480 53h7v7h-7zM480 59h7v7h-7zM480 65h7v7h-7zM480 71h7v7h-7zM480 77h7v7h-7zM480 83h7v7h-7zM480 89h7v7h-7zM480 95h7v7h-7zM480 101h7v7h-7zM480 107h7v7h-7zM480 113h7v7h-7zM480 119h7v7h-7zM486 35h7v7h-7zM486 41h7v7h-7zM486 47h7v7h-7zM486 53h7v7h-7zM486 59h7v7h-7zM486 65h7v7h-7zM486 71h7v7h-7zM486 77h7v7h-7zM486 83h7v7h-7zM486 89h7v7h-7zM486 95h7v7h-7zM486 101h7v7h-7zM486 107h7v7h-7zM486 113h7v7h-7zM486 119h7v7h-7zM492 35h7v7h-7zM492 41h7v7h-7zM492 47h7v7h-7zM492 53h7v7h-7zM492 59h7v7h-7zM492 65h7v7h-7zM492 71h7v7h-7zM492 77h7v7h-7zM492 83h7v7h-7zM492 89h7v7h-7zM492 95h7v7h-7zM492 101h7v7h-7zM492 107h7v7h-7zM492 113h7v7h-7zM492 119h7v7h-7zM498 35h7v7h-7zM498 41h7v7h-7zM498 47h7v7h-7zM498 53h7v7h-7zM498 59h7v7h-7zM498 65h7v7h-7zM498 71h7v7h-7zM498 77h7v7h-7zM498 83h7v7h-7zM498 89h7v7h-7zM498 95h7v7h-7zM498 101h7v7h-7zM498 107h7v7h-7zM498 113h7v7h-7zM498 119h7v7h-7zM504 35h7v7h-7zM504 41h7v7h-7zM504 47h7v7h-7zM504 53h7v7h-7zM504 59h7v7h-7zM504 65h7v7h-7zM504 71h7v7h-7zM504 77h7v7h-7zM504 83h7v7h-7zM504 89h7v7h-7zM504 95h7v7h-7zM504 101h7v7h-7zM504 107h7v7h-7zM504 113h7v7h-7zM504 119h7v7h-7zM511 35h7v7h-7zM511 41h7v7h-7zM511 47h7v7h-7zM511 53h7v7h-7zM511 59h7v7h-7zM511 65h7v7h-7zM511 71h7v7h-7zM511 77h7v7h-7zM511 83h7v7h-7zM511 89h7v7h-7zM511 95h7v7h-7zM511 101h7v7h-7zM511 107h7v7h-7zM511 113h7v7h-7zM511 119h7v7h-7zM517 35h7v7h-7zM517 41h7v7h-7zM517 47h7v7h-7zM517 53h7v7h-7zM517 59h7v7h-7zM517 65h7v7h-7zM517 71h7v7h-7zM517 77h7v7h-7zM517 83h7v7h-7zM517 89h7v7h-7zM517 95h7v7h-7zM517 101h7v7h-7zM517 107h7v7h-7zM517 113h7v7h-7zM517 119h7v7h-7zM523 35h7v7h-7zM523 41h7v7h-7zM523 47h7v7h-7zM523 53h7v7h-7zM523 59h7v7h-7zM523 65h7v7h-7zM523 71h7v7h-7zM523 77h7v7h-7zM523 83h7v7h-7zM523 89h7v7h-7zM523 95h7v7h-7zM523 101h7v7h-7zM523 107h7v7h-7zM523 113h7v7h-7zM523 119h7v7h-7zM529 35h7v7h-7zM529 41h7v7h-7zM529 47h7v7h-7zM529 53h7v7h-7zM529 59h7v7h-7zM529 65h7v7h-7zM529 71h7v7h-7zM529 77h7v7h-7zM529 83h7v7h-7zM529 89h7v7h-7zM529 95h7v7h-7zM529 101h7v7h-7zM529 107h7v7h-7zM529 113h7v7h-7zM529 119h7v7h-7zM535 35h7v7h-7zM535 41h7v7h-7zM535 47h7v7h-7zM535 53h7v7h-7zM535 59h7v7h-7zM535 65h7v7h-7zM535 71h7v7h-7zM535 77h7v7h-7zM535 83h7v7h-7zM535 89h7v7h-7zM535 95h7v7h-7zM535 101h7v7h-7zM535 107h7v7h-7zM535 113h7v7h-7zM535 119h7v7h-7zM541 35h7v7h-7zM541 41h7v7h-7zM541 47h7v7h-7zM541 53h7v7h-7zM541 59h7v7h-7zM541 65h7v7h-7zM541 71h7v7h-7zM541 77h7v7h-7zM541 83h7v7h-7zM541 89h7v7h-7zM541 95h7v7h-7zM541 101h7v7h-7zM541 107h7v7h-7zM541 113h7v7h-7zM541 119h7v7h-7zM547 35h7v7h-7zM547 41h7v7h-7zM547 47h7v7h-7zM547 53h7v7h-7zM547 59h7v7h-7zM547 65h7v7h-7zM547 71h7v7h-7zM547 77h7v7h-7zM547 83h7v7h-7zM547 89h7v7h-7zM547 95h7v7h-7zM547 101h7v7h-7zM547 107h7v7h-7zM547 113h7v7h-7zM547 119h7v7h-7zM553 35h7v7h-7zM553 41h7v7h-7zM553 47h7v7h-7zM553 53h7v7h-7zM553 59h7v7h-7zM553 65h7v7h-7zM553 71h7v7h-7zM553 77h7v7h-7zM553 83h7v7h-7zM553 89h7v7h-7zM553 95h7v7h-7zM553 101h7v7h-7zM553 107h7v7h-7zM553 113h7v7h-7zM553 119h7v7h-7zM559 35h7v7h-7zM559 41h7v7h-7zM559 47h7v7h-7zM559 53h7v7h-7zM559 59h7v7h-7zM559 65h7v7h-7zM559 71h7v7h-7zM559 77h7v7h-7zM559 83h7v7h-7zM559 89h7v7h-7zM559 95h7v7h-7zM559 101h7v7h-7zM559 107h7v7h-7zM559 113h7v7h-7zM559 119h7v7h-7zM565 35h7v7h-7zM565 41h7v7h-7zM565 47h7v7h-7zM565 53h7v7h-7zM565 59h7v7h-7zM565 65h7v7h-7zM565 71h7v7h-7zM565 77h7v7h-7zM565 83h7v7h-7zM565 89h7v7h-7zM565 95h7v7h-7zM565 101h7v7h-7zM565 107h7v7h-7zM565 113h7v7h-7zM565 119h7v7h-7zM572 35h7v7h-7zM572 41h7v7h-7zM572 47h7v7h-7zM572 53h7v7h-7zM572 59h7v7h-7zM572 65h7v7h-7zM572 71h7v7h-7zM572 77h7v7h-7zM572 83h7v7h-7zM572 89h7v7h-7zM572 95h7v7h-7zM572 101h7v7h-7zM572 107h7v7h-7zM572 113h7v7h-7zM572 119h7v7h-7zM578 35h7v7h-7zM578 41h7v7h-7zM578 47h7v7h-7zM578 53h7v7h-7zM578 59h7v7h-7zM578 65h7v7h-7zM578 71h7v7h-7zM578 77h7v7h-7zM578 83h7v7h-7zM578 89h7v7h-7zM578 95h7v7h-7zM578 101h7v7h-7zM578 107h7v7h-7zM578 113h7v7h-7zM578 119h7v7h-7zM584 35h7v7h-7zM584 41h7v7h-7zM584 47h7v7h-7zM584 53h7v7h-7zM584 59h7v7h-7zM584 65h7v7h-7zM584 71h7v7h-7zM584 77h7v7h-7zM584 83h7v7h-7zM584 89h7v7h-7zM584 95h7v7h-7zM584 101h7v7h-7zM584 107h7v7h-7zM584 113h7v7h-7zM584 119h7v7h-7zM590 35h7v7h-7zM590 41h7v7h-7zM590 47h7v7h-7zM590 53h7v7h-7zM590 59h7v7h-7zM590 65h7v7h-7zM590 71h7v7h-7zM590 77h7v7h-7zM590 83h7v7h-7zM590 89h7v7h-7zM590 95h7v7h-7zM590 101h7v7h-7zM590 107h7v7h-7zM590 113h7v7h-7zM590 119h7v7h-7zM596 35h7v7h-7zM596 41h7v7h-7zM596 47h7v7h-7zM596 53h7v7h-7zM596 59h7v7h-7zM596 65h7v7h-7zM596 71h7v7h-7zM596 77h7v7h-7zM596 83h7v7h-7zM596 89h7v7h-7zM596 95h7v7h-7zM596 101h7v7h-7zM596 107h7v7h-7zM596 113h7v7h-7zM596 119h7v7h-7zM602 35h7v7h-7zM602 41h7v7h-7zM602 47h7v7h-7zM602 53h7v7h-7zM602 59h7v7h-7zM602 65h7v7h-7zM602 71h7v7h-7zM602 77h7v7h-7zM602 83h7v7h-7zM602 89h7v7h-7zM602 95h7v7h-7zM602 101h7v7h-7zM602 107h7v7h-7zM602 113h7v7h-7zM602 119h7v7h-7zM608 35h7v7h-7zM608 41h7v7h-7zM608 47h7v7h-7zM608 53h7v7h-7zM608 59h7v7h-7zM608 65h7v7h-7zM608 71h7v7h-7zM608 77h7v7h-7zM608 83h7v7h-7zM608 89h7v7h-7zM608 95h7v7h-7zM608 101h7v7h-7zM608 107h7v7h-7zM608 113h7v7h-7zM608 119h7v7h-7zM614 35h7v7h-7zM614 41h7v7h-7zM614 47h7v7h-7zM614 53h7v7h-7zM614 59h7v7h-7zM614 65h7v7h-7zM614 71h7v7h-7zM614 77h7v7h-7zM614 83h7v7h-7zM614 89h7v7h-7zM614 95h7v7h-7zM614 101h7v7h-7zM614 107h7v7h-7zM614 113h7v7h-7zM614 119h7v7h-7zM620 35h7v7h-7zM620 41h7v7h-7zM620 47h7v7h-7zM620 53h7v7h-7zM620 59h7v7h-7zM620 65h7v7h-7zM620 71h7v7h-7zM620 77h7v7h-7zM620 83h7v7h-7zM620 89h7v7h-7zM620 95h7v7h-7zM620 101h7v7h-7zM620 107h7v7h-7zM620 113h7v7h-7zM620 119h7v7h-7zM626 35h7v7h-7zM626 41h7v7h-7zM626 47h7v7h-7zM626 53h7v7h-7zM626 59h7v7h-7zM626 65h7v7h-7zM626 71h7v7h-7zM626 77h7v7h-7zM626 83h7v7h-7zM626 89h7v7h-7zM626 95h7v7h-7zM626 101h7v7h-7z" fill="#ffffff"/>
<path d="M626 107h7v7h-7zM626 113h7v7h-7zM626 119h7v7h-7zM633 35h7v7h-7zM633 41h7v7h-7zM633 47h7v7h-7zM633 53h7v7h-7zM633 59h7v7h-7zM633 65h7v7h-7zM633 71h7v7h-7zM633 77h7v7h-7zM633 83h7v7h-7zM633 89h7v7h-7zM633 95h7v7h-7zM633 101h7v7h-7zM633 107h7v7h-7zM633 113h7v7h-7zM633 119h7v7h-7zM639 35h7v7h-7zM639 41h7v7h-7zM639 47h7v7h-7zM639 53h7v7h-7zM639 59h7v7h-7zM639 65h7v7h-7zM639 71h7v7h-7zM639 77h7v7h-7zM639 83h7v7h-7zM639 89h7v7h-7zM639 95h7v7h-7zM639 101h7v7h-7zM639 107h7v7h-7zM639 113h7v7h-7zM639 119h7v7h-7zM645 35h7v7h-7zM645 41h7v7h-7zM645 47h7v7h-7zM645 53h7v7h-7zM645 59h7v7h-7zM645 65h7v7h-7zM645 71h7v7h-7zM645 77h7v7h-7zM645 83h7v7h-7zM645 89h7v7h-7zM645 95h7v7h-7zM645 101h7v7h-7zM645 107h7v7h-7zM645 113h7v7h-7zM645 119h7v7h-7zM651 35h7v7h-7zM651 41h7v7h-7zM651 47h7v7h-7zM651 53h7v7h-7zM651 59h7v7h-7zM651 65h7v7h-7zM651 71h7v7h-7zM651 77h7v7h-7zM651 83h7v7h-7zM651 89h7v7h-7zM651 95h7v7h-7zM651 101h7v7h-7zM651 107h7v7h-7zM651 113h7v7h-7zM651 119h7v7h-7zM657 35h7v7h-7zM657 41h7v7h-7zM657 47h7v7h-7zM657 53h7v7h-7zM657 59h7v7h-7zM657 65h7v7h-7zM657 71h7v7h-7zM657 77h7v7h-7zM657 83h7v7h-7zM657 89h7v7h-7zM657 95h7v7h-7zM657 101h7v7h-7zM657 107h7v7h-7zM657 113h7v7h-7zM657 119h7v7h-7zM663 35h7v7h-7zM663 41h7v7h-7zM663 47h7v7h-7zM663 53h7v7h-7zM663 59h7v7h-7zM663 65h7v7h-7zM663 71h7v7h-7zM663 77h7v7h-7zM663 83h7v7h-7zM663 89h7v7h-7zM663 95h7v7h-7zM663 101h7v7h-7zM663 107h7v7h-7zM663 113h7v7h-7zM663 119h7v7h-7zM669 35h7v7h-7zM669 41h7v7h-7zM669 47h7v7h-7zM669 53h7v7h-7zM669 59h7v7h-7zM669 65h7v7h-7zM669 71h7v7h-7zM669 77h7v7h-7zM669 83h7v7h-7zM669 89h7v7h-7zM669 95h7v7h-7zM669 101h7v7h-7zM669 107h7v7h-7zM669 113h7v7h-7zM669 119h7v7h-7zM675 35h7v7h-7zM675 41h7v7h-7zM675 47h7v7h-7zM675 53h7v7h-7zM675 59h7v7h-7zM675 65h7v7h-7zM675 71h7v7h-7zM675 77h7v7h-7zM675 83h7v7h-7zM675 89h7v7h-7zM675 95h7v7h-7zM675 101h7v7h-7zM675 107h7v7h-7zM675 113h7v7h-7zM675 119h7v7h-7zM681 35h7v7h-7zM681 41h7v7h-7zM681 47h7v7h-7zM681 53h7v7h-7zM681 59h7v7h-7zM681 65h7v7h-7zM681 71h7v7h-7zM681 77h7v7h-7zM681 83h7v7h-7zM681 89h7v7h-7zM681 95h7v7h-7zM681 101h7v7h-7zM681 107h7v7h-7zM681 113h7v7h-7zM681 119h7v7h-7zM687 35h7v7h-7zM687 41h7v7h-7zM687 47h7v7h-7zM687 53h7v7h-7zM687 59h7v7h-7zM687 65h7v7h-7zM687 71h7v7h-7zM687 77h7v7h-7zM687 83h7v7h-7zM687 89h7v7h-7zM687 95h7v7h-7zM687 101h7v7h-7zM687 107h7v7h-7zM687 113h7v7h-7zM687 119h7v7h-7zM694 35h7v7h-7zM694 41h7v7h-7zM694 47h7v7h-7zM694 53h7v7h-7zM694 59h7v7h-7zM694 65h7v7h-7zM694 71h7v7h-7zM694 77h7v7h-7zM694 83h7v7h-7zM694 89h7v7h-7zM694 95h7v7h-7zM694 101h7v7h-7zM694 107h7v7h-7zM694 113h7v7h-7zM694 119h7v7h-7zM700 35h7v7h-7zM700 41h7v7h-7zM700 47h7v7h-7zM700 53h7v7h-7zM700 59h7v7h-7zM700 65h7v7h-7zM700 71h7v7h-7zM700 77h7v7h-7zM700 83h7v7h-7zM700 89h7v7h-7zM700 95h7v7h-7zM700 101h7v7h-7zM700 107h7v7h-7zM700 113h7v7h-7zM700 119h7v7h-7zM706 35h7v7h-7zM706 41h7v7h-7zM706 47h7v7h-7zM706 53h7v7h-7zM706 59h7v7h-7zM706 65h7v7h-7zM706 71h7v7h-7zM706 77h7v7h-7zM706 83h7v7h-7zM706 89h7v7h-7zM706 95h7v7h-7zM706 101h7v7h-7zM706 107h7v7h-7zM706 113h7v7h-7zM706 119h7v7h-7zM712 35h7v7h-7zM712 41h7v7h-7zM712 47h7v7h-7zM712 53h7v7h-7zM712 59h7v7h-7zM712 65h7v7h-7zM712 71h7v7h-7zM712 77h7v7h-7zM712 83h7v7h-7zM712 89h7v7h-7zM712 95h7v7h-7zM712 101h7v7h-7zM712 107h7v7h-7zM712 113h7v7h-7zM712 119h7v7h-7zM718 35h7v7h-7zM718 41h7v7h-7zM718 47h7v7h-7zM718 53h7v7h-7zM718 59h7v7h-7zM718 65h7v7h-7zM718 71h7v7h-7zM718 77h7v7h-7zM718 83h7v7h-7zM718 89h7v7h-7zM718 95h7v7h-7zM718 101h7v7h-7zM718 107h7v7h-7zM718 113h7v7h-7zM718 119h7v7h-7zM724 35h7v7h-7zM724 41h7v7h-7zM724 47h7v7h-7zM724 53h7v7h-7zM724 59h7v7h-7zM724 65h7v7h-7zM724 71h7v7h-7zM724 77h7v7h-7zM724 83h7v7h-7zM724 89h7v7h-7zM724 95h7v7h-7zM724 101h7v7h-7zM724 107h7v7h-7zM724 113h7v7h-7zM724 119h7v7h-7zM730 35h7v7h-7zM730 41h7v7h-7zM730 47h7v7h-7zM730 53h7v7h-7zM730 59h7v7h-7zM730 65h7v7h-7zM730 71h7v7h-7zM730 77h7v7h-7zM730 83h7v7h-7zM730 89h7v7h-7zM730 95h7v7h-7zM730 101h7v7h-7zM730 107h7v7h-7zM730 113h7v7h-7zM730 119h7v7h-7zM736 35h7v7h-7zM736 41h7v7h-7zM736 47h7v7h-7zM736 53h7v7h-7zM736 59h7v7h-7zM736 65h7v7h-7zM736 71h7v7h-7zM736 77h7v7h-7zM736 83h7v7h-7zM736 89h7v7h-7zM736 95h7v7h-7zM736 101h7v7h-7zM736 107h7v7h-7zM736 113h7v7h-7zM736 119h7v7h-7zM742 35h7v7h-7zM742 41h7v7h-7zM742 47h7v7h-7zM742 53h7v7h-7zM742 59h7v7h-7zM742 65h7v7h-7zM742 71h7v7h-7zM742 77h7v7h-7zM742 83h7v7h-7zM742 89h7v7h-7zM742 95h7v7h-7zM742 101h7v7h-7zM742 107h7v7h-7zM742 113h7v7h-7zM742 119h7v7h-7zM748 35h7v7h-7zM748 41h7v7h-7zM748 47h7v7h-7zM748 53h7v7h-7zM748 59h7v7h-7zM748 65h7v7h-7zM748 71h7v7h-7zM748 77h7v7h-7zM748 83h7v7h-7zM748 89h7v7h-7zM748 95h7v7h-7zM748 101h7v7h-7zM748 107h7v7h-7zM748 113h7v7h-7zM748 119h7v7h-7zM755 35h7v7h-7zM755 41h7v7h-7zM755 47h7v7h-7zM755 53h7v7h-7zM755 59h7v7h-7zM755 65h7v7h-7zM755 71h7v7h-7zM755 77h7v7h-7zM755 83h7v7h-7zM755 89h7v7h-7zM755 95h7v7h-7zM755 101h7v7h-7zM755 107h7v7h-7zM755 113h7v7h-7zM755 119h7v7h-7zM761 35h7v7h-7zM761 41h7v7h-7zM761 47h7v7h-7zM761 53h7v7h-7zM761 59h7v7h-7zM761 65h7v7h-7zM761 71h7v7h-7zM761 77h7v7h-7zM761 83h7v7h-7zM761 89h7v7h-7zM761 95h7v7h-7zM761 101h7v7h-7zM761 107h7v7h-7zM761 113h7v7h-7zM761 119h7v7h-7zM767 35h7v7h-7zM767 41h7v7h-7zM767 47h7v7h-7zM767 53h7v7h-7zM767 59h7v7h-7zM767 65h7v7h-7zM767 71h7v7h-7zM767 77h7v7h-7zM767 83h7v7h-7zM767 89h7v7h-7zM767 95h7v7h-7zM767 101h7v7h-7zM767 107h7v7h-7zM767 113h7v7h-7zM767 119h7v7h-7zM773 35h7v7h-7zM773 41h7v7h-7zM773 47h7v7h-7zM773 53h7v7h-7zM773 59h7v7h-7zM773 65h7v7h-7zM773 71h7v7h-7zM773 77h7v7h-7zM773 83h7v7h-7zM773 89h7v7h-7zM773 95h7v7h-7zM773 101h7v7h-7zM773 107h7v7h-7zM773 113h7v7h-7zM773 119h7v7h-7zM779 35h7v7h-7zM779 41h7v7h-7zM779 47h7v7h-7zM779 53h7v7h-7zM779 59h7v7h-7zM779 65h7v7h-7zM779 71h7v7h-7zM779 77h7v7h-7zM779 83h7v7h-7zM779 89h7v7h-7zM779 95h7v7h-7zM779 101h7v7h-7zM779 107h7v7h-7zM779 113h7v7h-7zM779 119h7v7h-7zM785 35h7v7h-7zM785 41h7v7h-7zM785 47h7v7h-7zM785 53h7v7h-7zM785 59h7v7h-7zM785 65h7v7h-7zM785 71h7v7h-7zM785 77h7v7h-7zM785 83h7v7h-7zM785 89h7v7h-7zM785 95h7v7h-7zM785 101h7v7h-7zM785 107h7v7h-7zM785 113h7v7h-7zM785 119h7v7h-7zM791 35h7v7h-7zM791 41h7v7h-7zM791 47h7v7h-7zM791 53h7v7h-7zM791 59h7v7h-7zM791 65h7v7h-7zM791 71h7v7h-7zM791 77h7v7h-7zM791 83h7v7h-7zM791 89h7v7h-7zM791 95h7v7h-7zM791 101h7v7h-7zM791 107h7v7h-7zM791 113h7v7h-7zM791 119h7v7h-7zM797 35h7v7h-7zM797 41h7v7h-7zM797 47h7v7h-7zM797 53h7v7h-7zM797 59h7v7h-7zM797 65h7v7h-7zM797 71h7v7h-7zM797 77h7v7h-7zM797 83h7v7h-7zM797 89h7v7h-7zM797 95h7v7h-7zM797 101h7v7h-7zM797 107h7v7h-7zM797 113h7v7h-7zM797 119h7v7h-7zM803 35h7v7h-7zM803 41h7v7h-7zM803 47h7v7h-7zM803 53h7v7h-7zM803 59h7v7h-7zM803 65h7v7h-7zM803 71h7v7h-7zM803 77h7v7h-7zM803 83h7v7h-7zM803 89h7v7h-7zM803 95h7v7h-7zM803 101h7v7h-7zM803 107h7v7h-7zM803 113h7v7h-7zM803 119h7v7h-7zM809 35h7v7h-7zM809 41h7v7h-7zM809 47h7v7h-7zM809 53h7v7h-7zM809 59h7v7h-7zM809 65h7v7h-7zM809 71h7v7h-7zM809 77h7v7h-7zM809 83h7v7h-7zM809 89h7v7h-7z" fill="#fafbfb"/>
<path d="M268.2 36.2h4.6v4.6h-4.6zM268.2 42.2h4.6v4.6h-4.6zM268.2 48.2h4.6v4.6h-4.6zM268.2 54.2h4.6v4.6h-4.6zM268.2 60.2h4.6v4.6h-4.6zM268.2 66.2h4.6v4.6h-4.6zM268.2 72.2h4.6v4.6h-4.6zM268.2 78.2h4.6v4.6h-4.6zM268.2 84.2h4.6v4.6h-4.6zM268.2 90.2h4.6v4.6h-4.6zM268.2 96.2h4.6v4.6h-4.6zM268.2 102.2h4.6v4.6h-4.6zM268.2 108.2h4.6v4.6h-4.6zM268.2 114.2h4.6v4.6h-4.6zM268.2 120.2h4.6v4.6h-4.6zM274.2 36.2h4.6v4.6h-4.6zM274.2 42.2h4.6v4.6h-4.6zM274.2 48.2h4.6v4.6h-4.6zM274.2 54.2h4.6v4.6h-4.6zM274.2 60.2h4.6v4.6h-4.6zM274.2 66.2h4.6v4.6h-4.6zM274.2 72.2h4.6v4.6h-4.6zM274.2 78.2h4.6v4.6h-4.6zM274.2 84.2h4.6v4.6h-4.6zM274.2 90.2h4.6v4.6h-4.6zM274.2 96.2h4.6v4.6h-4.6zM274.2 102.2h4.6v4.6h-4.6zM274.2 108.2h4.6v4.6h-4.6zM274.2 114.2h4.6v4.6h-4.6zM274.2 120.2h4.6v4.6h-4.6zM280.2 36.2h4.6v4.6h-4.6zM280.2 42.2h4.6v4.6h-4.6zM280.2 48.2h4.6v4.6h-4.6zM280.2 54.2h4.6v4.6h-4.6zM280.2 60.2h4.6v4.6h-4.6zM280.2 66.2h4.6v4.6h-4.6zM280.2 72.2h4.6v4.6h-4.6zM280.2 78.2h4.6v4.6h-4.6zM280.2 84.2h4.6v4.6h-4.6zM280.2 90.2h4.6v4.6h-4.6zM280.2 96.2h4.6v4.6h-4.6zM280.2 102.2h4.6v4.6h-4.6zM280.2 108.2h4.6v4.6h-4.6zM280.2 114.2h4.6v4.6h-4.6zM280.2 120.2h4.6v4.6h-4.6zM286.2 36.2h4.6v4.6h-4.6zM286.2 42.2h4.6v4.6h-4.6zM286.2 48.2h4.6v4.6h-4.6zM286.2 54.2h4.6v4.6h-4.6zM286.2 60.2h4.6v4.6h-4.6zM286.2 66.2h4.6v4.6h-4.6zM286.2 72.2h4.6v4.6h-4.6zM286.2 78.2h4.6v4.6h-4.6zM286.2 84.2h4.6v4.6h-4.6zM286.2 90.2h4.6v4.6h-4.6zM286.2 96.2h4.6v4.6h-4.6zM286.2 102.2h4.6v4.6h-4.6zM286.2 108.2h4.6v4.6h-4.6zM286.2 114.2h4.6v4.6h-4.6zM286.2 120.2h4.6v4.6h-4.6zM292.2 36.2h4.6v4.6h-4.6zM292.2 42.2h4.6v4.6h-4.6zM292.2 48.2h4.6v4.6h-4.6zM292.2 54.2h4.6v4.6h-4.6zM292.2 60.2h4.6v4.6h-4.6zM292.2 66.2h4.6v4.6h-4.6zM292.2 72.2h4.6v4.6h-4.6zM292.2 78.2h4.6v4.6h-4.6zM292.2 84.2h4.6v4.6h-4.6zM292.2 90.2h4.6v4.6h-4.6zM292.2 96.2h4.6v4.6h-4.6zM292.2 102.2h4.6v4.6h-4.6zM292.2 108.2h4.6v4.6h-4.6zM292.2 114.2h4.6v4.6h-4.6zM292.2 120.2h4.6v4.6h-4.6zM298.2 36.2h4.6v4.6h-4.6zM298.2 42.2h4.6v4.6h-4.6zM298.2 48.2h4.6v4.6h-4.6zM298.2 54.2h4.6v4.6h-4.6zM298.2 60.2h4.6v4.6h-4.6zM298.2 66.2h4.6v4.6h-4.6zM298.2 72.2h4.6v4.6h-4.6zM298.2 78.2h4.6v4.6h-4.6zM298.2 84.2h4.6v4.6h-4.6zM298.2 90.2h4.6v4.6h-4.6zM298.2 96.2h4.6v4.6h-4.6zM298.2 102.2h4.6v4.6h-4.6zM298.2 108.2h4.6v4.6h-4.6zM298.2 114.2h4.6v4.6h-4.6zM298.2 120.2h4.6v4.6h-4.6zM304.2 36.2h4.6v4.6h-4.6zM304.2 42.2h4.6v4.6h-4.6zM304.2 48.2h4.6v4.6h-4.6zM304.2 54.2h4.6v4.6h-4.6zM304.2 60.2h4.6v4.6h-4.6zM304.2 66.2h4.6v4.6h-4.6zM304.2 72.2h4.6v4.6h-4.6zM304.2 78.2h4.6v4.6h-4.6zM304.2 84.2h4.6v4.6h-4.6zM304.2 90.2h4.6v4.6h-4.6zM304.2 96.2h4.6v4.6h-4.6zM304.2 102.2h4.6v4.6h-4.6zM304.2 108.2h4.6v4.6h-4.6zM304.2 114.2h4.6v4.6h-4.6zM304.2 120.2h4.6v4.6h-4.6zM310.2 36.2h4.6v4.6h-4.6zM310.2 42.2h4.6v4.6h-4.6zM310.2 48.2h4.6v4.6h-4.6zM310.2 54.2h4.6v4.6h-4.6zM310.2 60.2h4.6v4.6h-4.6zM310.2 66.2h4.6v4.6h-4.6zM310.2 72.2h4.6v4.6h-4.6zM310.2 78.2h4.6v4.6h-4.6zM310.2 84.2h4.6v4.6h-4.6zM310.2 90.2h4.6v4.6h-4.6zM310.2 96.2h4.6v4.6h-4.6zM310.2 102.2h4.6v4.6h-4.6zM310.2 108.2h4.6v4.6h-4.6zM310.2 114.2h4.6v4.6h-4.6zM310.2 120.2h4.6v4.6h-4.6zM316.2 36.2h4.6v4.6h-4.6zM316.2 42.2h4.6v4.6h-4.6zM316.2 48.2h4.6v4.6h-4.6zM316.2 54.2h4.6v4.6h-4.6zM316.2 60.2h4.6v4.6h-4.6zM316.2 66.2h4.6v4.6h-4.6zM316.2 72.2h4.6v4.6h-4.6zM316.2 78.2h4.6v4.6h-4.6zM316.2 84.2h4.6v4.6h-4.6zM316.2 90.2h4.6v4.6h-4.6zM316.2 96.2h4.6v4.6h-4.6zM316.2 102.2h4.6v4.6h-4.6zM316.2 108.2h4.6v4.6h-4.6zM316.2 114.2h4.6v4.6h-4.6zM316.2 120.2h4.6v4.6h-4.6zM322.2 36.2h4.6v4.6h-4.6zM322.2 42.2h4.6v4.6h-4.6zM322.2 48.2h4.6v4.6h-4.6zM322.2 54.2h4.6v4.6h-4.6zM322.2 60.2h4.6v4.6h-4.6zM322.2 66.2h4.6v4.6h-4.6zM322.2 72.2h4.6v4.6h-4.6zM322.2 78.2h4.6v4.6h-4.6zM322.2 84.2h4.6v4.6h-4.6zM322.2 90.2h4.6v4.6h-4.6zM322.2 96.2h4.6v4.6h-4.6zM322.2 102.2h4.6v4.6h-4.6zM322.2 108.2h4.6v4.6h-4.6zM322.2 114.2h4.6v4.6h-4.6zM322.2 120.2h4.6v4.6h-4.6zM329.2 36.2h4.6v4.6h-4.6zM329.2 42.2h4.6v4.6h-4.6zM329.2 48.2h4.6v4.6h-4.6zM329.2 54.2h4.6v4.6h-4.6zM329.2 60.2h4.6v4.6h-4.6zM329.2 66.2h4.6v4.6h-4.6zM329.2 72.2h4.6v4.6h-4.6zM329.2 78.2h4.6v4.6h-4.6zM329.2 84.2h4.6v4.6h-4.6zM329.2 90.2h4.6v4.6h-4.6zM329.2 96.2h4.6v4.6h-4.6zM329.2 102.2h4.6v4.6h-4.6zM329.2 108.2h4.6v4.6h-4.6zM329.2 114.2h4.6v4.6h-4.6zM329.2 120.2h4.6v4.6h-4.6zM335.2 36.2h4.6v4.6h-4.6zM335.2 42.2h4.6v4.6h-4.6zM335.2 48.2h4.6v4.6h-4.6zM335.2 54.2h4.6v4.6h-4.6zM335.2 60.2h4.6v4.6h-4.6zM335.2 66.2h4.6v4.6h-4.6zM335.2 72.2h4.6v4.6h-4.6zM335.2 78.2h4.6v4.6h-4.6zM335.2 84.2h4.6v4.6h-4.6zM335.2 90.2h4.6v4.6h-4.6zM335.2 96.2h4.6v4.6h-4.6zM335.2 102.2h4.6v4.6h-4.6zM335.2 108.2h4.6v4.6h-4.6zM335.2 114.2h4.6v4.6h-4.6zM335.2 120.2h4.6v4.6h-4.6zM341.2 36.2h4.6v4.6h-4.6zM341.2 42.2h4.6v4.6h-4.6zM341.2 48.2h4.6v4.6h-4.6zM341.2 54.2h4.6v4.6h-4.6zM341.2 60.2h4.6v4.6h-4.6zM341.2 66.2h4.6v4.6h-4.6zM341.2 72.2h4.6v4.6h-4.6zM341.2 78.2h4.6v4.6h-4.6zM341.2 84.2h4.6v4.6h-4.6zM341.2 90.2h4.6v4.6h-4.6zM341.2 96.2h4.6v4.6h-4.6zM341.2 102.2h4.6v4.6h-4.6zM341.2 108.2h4.6v4.6h-4.6zM341.2 114.2h4.6v4.6h-4.6zM341.2 120.2h4.6v4.6h-4.6zM347.2 36.2h4.6v4.6h-4.6zM347.2 42.2h4.6v4.6h-4.6zM347.2 48.2h4.6v4.6h-4.6zM347.2 54.2h4.6v4.6h-4.6zM347.2 60.2h4.6v4.6h-4.6zM347.2 66.2h4.6v4.6h-4.6zM347.2 72.2h4.6v4.6h-4.6zM347.2 78.2h4.6v4.6h-4.6zM347.2 84.2h4.6v4.6h-4.6zM347.2 90.2h4.6v4.6h-4.6zM347.2 96.2h4.6v4.6h-4.6zM347.2 102.2h4.6v4.6h-4.6zM347.2 108.2h4.6v4.6h-4.6zM347.2 114.2h4.6v4.6h-4.6zM347.2 120.2h4.6v4.6h-4.6zM353.2 36.2h4.6v4.6h-4.6zM353.2 42.2h4.6v4.6h-4.6zM353.2 48.2h4.6v4.6h-4.6zM353.2 54.2h4.6v4.6h-4.6zM353.2 60.2h4.6v4.6h-4.6zM353.2 66.2h4.6v4.6h-4.6zM353.2 72.2h4.6v4.6h-4.6zM353.2 78.2h4.6v4.6h-4.6zM353.2 84.2h4.6v4.6h-4.6zM353.2 90.2h4.6v4.6h-4.6zM353.2 96.2h4.6v4.6h-4.6zM353.2 102.2h4.6v4.6h-4.6zM353.2 108.2h4.6v4.6h-4.6zM353.2 114.2h4.6v4.6h-4.6zM353.2 120.2h4.6v4.6h-4.6zM359.2 36.2h4.6v4.6h-4.6zM359.2 42.2h4.6v4.6h-4.6zM359.2 48.2h4.6v4.6h-4.6zM359.2 54.2h4.6v4.6h-4.6zM359.2 60.2h4.6v4.6h-4.6zM359.2 66.2h4.6v4.6h-4.6zM359.2 72.2h4.6v4.6h-4.6zM359.2 78.2h4.6v4.6h-4.6zM359.2 84.2h4.6v4.6h-4.6zM359.2 90.2h4.6v4.6h-4.6zM359.2 96.2h4.6v4.6h-4.6zM359.2 102.2h4.6v4.6h-4.6zM359.2 108.2h4.6v4.6h-4.6zM359.2 114.2h4.6v4.6h-4.6zM359.2 120.2h4.6v4.6h-4.6zM365.2 36.2h4.6v4.6h-4.6zM365.2 42.2h4.6v4.6h-4.6zM365.2 48.2h4.6v4.6h-4.6zM365.2 54.2h4.6v4.6h-4.6zM365.2 60.2h4.6v4.6h-4.6zM365.2 66.2h4.6v4.6h-4.6zM365.2 72.2h4.6v4.6h-4.6zM365.2 78.2h4.6v4.6h-4.6zM365.2 84.2h4.6v4.6h-4.6zM365.2 90.2h4.6v4.6h-4.6zM365.2 96.2h4.6v4.6h-4.6zM365.2 102.2h4.6v4.6h-4.6zM365.2 108.2h4.6v4.6h-4.6zM365.2 114.2h4.6v4.6h-4.6zM365.2 120.2h4.6v4.6h-4.6zM371.2 36.2h4.6v4.6h-4.6zM371.2 42.2h4.6v4.6h-4.6zM371.2 48.2h4.6v4.6h-4.6zM371.2 54.2h4.6v4.6h-4.6zM371.2 60.2h4.6v4.6h-4.6zM371.2 66.2h4.6v4.6h-4.6zM371.2 72.2h4.6v4.6h-4.6zM371.2 78.2h4.6v4.6h-4.6zM371.2 84.2h4.6v4.6h-4.6zM371.2 90.2h4.6v4.6h-4.6zM371.2 96.2h4.6v4.6h-4.6zM371.2 102.2h4.6v4.6h-4.6zM371.2 108.2h4.6v4.6h-4.6zM371.2 114.2h4.6v4.6h-4.6zM371.2 120.2h4.6v4.6h-4.6zM377.2 36.2h4.6v4.6h-4.6zM377.2 42.2h4.6v4.6h-4.6zM377.2 48.2h4.6v4.6h-4.6zM377.2 54.2h4.6v4.6h-4.6zM377.2 60.2h4.6v4.6h-4.6zM377.2 66.2h4.6v4.6h-4.6zM377.2 72.2h4.6v4.6h-4.6zM377.2 78.2h4.6v4.6h-4.6zM377.2 84.2h4.6v4.6h-4.6zM377.2 90.2h4.6v4.6h-4.6zM377.2 96.2h4.6v4.6h-4.6zM377.2 102.2h4.6v4.6h-4.6zM377.2 108.2h4.6v4.6h-4.6zM377.2 114.2h4.6v4.6h-4.6zM377.2 120.2h4.6v4.6h-4.6zM383.2 36.2h4.6v4.6h-4.6zM383.2 42.2h4.6v4.6h-4.6zM383.2 48.2h4.6v4.6h-4.6zM383.2 54.2h4.6v4.6h-4.6zM383.2 60.2h4.6v4.6h-4.6zM383.2 66.2h4.6v4.6h-4.6zM383.2 72.2h4.6v4.6h-4.6zM383.2 78.2h4.6v4.6h-4.6zM383.2 84.2h4.6v4.6h-4.6zM383.2 90.2h4.6v4.6h-4.6zM383.2 96.2h4.6v4.6h-4.6zM383.2 102.2h4.6v4.6h-4.6zM383.2 108.2h4.6v4.6h-4.6zM383.2 114.2h4.6v4.6h-4.6zM383.2 120.2h4.6v4.6h-4.6zM390.2 36.2h4.6v4.6h-4.6zM390.2 42.2h4.6v4.6h-4.6zM390.2 48.2h4.6v4.6h-4.6zM390.2 54.2h4.6v4.6h-4.6zM390.2 60.2h4.6v4.6h-4.6zM390.2 66.2h4.6v4.6h-4.6zM390.2 72.2h4.6v4.6h-4.6zM390.2 78.2h4.6v4.6h-4.6zM390.2 84.2h4.6v4.6h-4.6zM390.2 90.2h4.6v4.6h-4.6zM390.2 96.2h4.6v4.6h-4.6zM390.2 102.2h4.6v4.6h-4.6zM390.2 108.2h4.6v4.6h-4.6zM390.2 114.2h4.6v4.6h-4.6zM390.2 120.2h4.6v4.6h-4.6zM396.2 36.2h4.6v4.6h-4.6zM396.2 42.2h4.6v4.6h-4.6zM396.2 48.2h4.6v4.6h-4.6zM396.2 54.2h4.6v4.6h-4.6zM396.2 60.2h4.6v4.6h-4.6zM396.2 66.2h4.6v4.6h-4.6zM396.2 72.2h4.6v4.6h-4.6zM396.2 78.2h4.6v4.6h-4.6zM396.2 84.2h4.6v4.6h-4.6zM396.2 90.2h4.6v4.6h-4.6zM396.2 96.2h4.6v4.6h-4.6zM396.2 102.2h4.6v4.6h-4.6zM396.2 108.2h4.6v4.6h-4.6zM396.2 114.2h4.6v4.6h-4.6zM396.2 120.2h4.6v4.6h-4.6zM402.2 36.2h4.6v4.6h-4.6zM402.2 42.2h4.6v4.6h-4.6zM402.2 48.2h4.6v4.6h-4.6zM402.2 54.2h4.6v4.6h-4.6zM402.2 60.2h4.6v4.6h-4.6zM402.2 66.2h4.6v4.6h-4.6zM402.2 72.2h4.6v4.6h-4.6zM402.2 78.2h4.6v4.6h-4.6zM402.2 84.2h4.6v4.6h-4.6zM402.2 90.2h4.6v4.6h-4.6zM402.2 96.2h4.6v4.6h-4.6zM402.2 102.2h4.6v4.6h-4.6zM402.2 108.2h4.6v4.6h-4.6zM402.2 114.2h4.6v4.6h-4.6zM402.2 120.2h4.6v4.6h-4.6zM408.2 36.2h4.6v4.6h-4.6zM408.2 42.2h4.6v4.6h-4.6zM408.2 48.2h4.6v4.6h-4.6zM408.2 54.2h4.6v4.6h-4.6zM408.2 60.2h4.6v4.6h-4.6zM408.2 66.2h4.6v4.6h-4.6zM408.2 72.2h4.6v4.6h-4.6zM408.2 78.2h4.6v4.6h-4.6zM408.2 84.2h4.6v4.6h-4.6zM408.2 90.2h4.6v4.6h-4.6zM408.2 96.2h4.6v4.6h-4.6zM408.2 102.2h4.6v4.6h-4.6zM408.2 108.2h4.6v4.6h-4.6zM408.2 114.2h4.6v4.6h-4.6zM408.2 120.2h4.6v4.6h-4.6zM414.2 36.2h4.6v4.6h-4.6zM414.2 42.2h4.6v4.6h-4.6zM414.2 48.2h4.6v4.6h-4.6zM414.2 54.2h4.6v4.6h-4.6zM414.2 60.2h4.6v4.6h-4.6zM414.2 66.2h4.6v4.6h-4.6zM414.2 72.2h4.6v4.6h-4.6zM414.2 78.2h4.6v4.6h-4.6zM414.2 84.2h4.6v4.6h-4.6zM414.2 90.2h4.6v4.6h-4.6zM414.2 96.2h4.6v4.6h-4.6zM414.2 102.2h4.6v4.6h-4.6zM414.2 108.2h4.6v4.6h-4.6zM414.2 114.2h4.6v4.6h-4.6zM414.2 120.2h4.6v4.6h-4.6zM420.2 36.2h4.6v4.6h-4.6zM420.2 42.2h4.6v4.6h-4.6zM420.2 48.2h4.6v4.6h-4.6zM420.2 54.2h4.6v4.6h-4.6zM420.2 60.2h4.6v4.6h-4.6zM420.2 66.2h4.6v4.6h-4.6zM420.2 72.2h4.6v4.6h-4.6zM420.2 78.2h4.6v4.6h-4.6zM420.2 84.2h4.6v4.6h-4.6zM420.2 90.2h4.6v4.6h-4.6zM420.2 96.2h4.6v4.6h-4.6zM420.2 102.2h4.6v4.6h-4.6zM420.2 108.2h4.6v4.6h-4.6zM420.2 114.2h4.6v4.6h-4.6zM420.2 120.2h4.6v4.6h-4.6zM426.2 36.2h4.6v4.6h-4.6zM426.2 42.2h4.6v4.6h-4.6zM426.2 48.2h4.6v4.6h-4.6zM426.2 54.2h4.6v4.6h-4.6zM426.2 60.2h4.6v4.6h-4.6zM426.2 66.2h4.6v4.6h-4.6zM426.2 72.2h4.6v4.6h-4.6zM426.2 78.2h4.6v4.6h-4.6zM426.2 84.2h4.6v4.6h-4.6zM426.2 90.2h4.6v4.6h-4.6zM426.2 96.2h4.6v4.6h-4.6zM426.2 102.2h4.6v4.6h-4.6zM426.2 108.2h4.6v4.6h-4.6zM426.2 114.2h4.6v4.6h-4.6zM426.2 120.2h4.6v4.6h-4.6zM432.2 36.2h4.6v4.6h-4.6zM432.2 42.2h4.6v4.6h-4.6zM432.2 48.2h4.6v4.6h-4.6zM432.2 54.2h4.6v4.6h-4.6zM432.2 60.2h4.6v4.6h-4.6zM432.2 66.2h4.6v4.6h-4.6zM432.2 72.2h4.6v4.6h-4.6zM432.2 78.2h4.6v4.6h-4.6zM432.2 84.2h4.6v4.6h-4.6zM432.2 90.2h4.6v4.6h-4.6zM432.2 96.2h4.6v4.6h-4.6zM432.2 102.2h4.6v4.6h-4.6zM432.2 108.2h4.6v4.6h-4.6zM432.2 114.2h4.6v4.6h-4.6zM432.2 120.2h4.6v4.6h-4.6zM438.2 36.2h4.6v4.6h-4.6zM438.2 42.2h4.6v4.6h-4.6zM438.2 48.2h4.6v4.6h-4.6zM438.2 54.2h4.6v4.6h-4.6zM438.2 60.2h4.6v4.6h-4.6zM438.2 66.2h4.6v4.6h-4.6zM438.2 72.2h4.6v4.6h-4.6zM438.2 78.2h4.6v4.6h-4.6zM438.2 84.2h4.6v4.6h-4.6zM438.2 90.2h4.6v4.6h-4.6zM438.2 96.2h4.6v4.6h-4.6zM438.2 102.2h4.6v4.6h-4.6zM438.2 108.2h4.6v4.6h-4.6zM438.2 114.2h4.6v4.6h-4.6zM438.2 120.2h4.6v4.6h-4.6zM444.2 36.2h4.6v4.6h-4.6zM444.2 42.2h4.6v4.6h-4.6zM444.2 48.2h4.6v4.6h-4.6zM444.2 54.2h4.6v4.6h-4.6zM444.2 60.2h4.6v4.6h-4.6zM444.2 66.2h4.6v4.6h-4.6zM444.2 72.2h4.6v4.6h-4.6zM444.2 78.2h4.6v4.6h-4.6zM444.2 84.2h4.6v4.6h-4.6zM444.2 90.2h4.6v4.6h-4.6zM444.2 96.2h4.6v4.6h-4.6zM444.2 102.2h4.6v4.6h-4.6zM444.2 108.2h4.6v4.6h-4.6zM444.2 114.2h4.6v4.6h-4.6zM444.2 120.2h4.6v4.6h-4.6zM451.2 36.2h4.6v4.6h-4.6zM451.2 42.2h4.6v4.6h-4.6zM451.2 48.2h4.6v4.6h-4.6zM451.2 54.2h4.6v4.6h-4.6zM451.2 60.2h4.6v4.6h-4.6zM451.2 66.2h4.6v4.6h-4.6zM451.2 72.2h4.6v4.6h-4.6zM451.2 78.2h4.6v4.6h-4.6zM451.2 84.2h4.6v4.6h-4.6zM451.2 90.2h4.6v4.6h-4.6zM451.2 96.2h4.6v4.6h-4.6zM451.2 102.2h4.6v4.6h-4.6zM451.2 108.2h4.6v4.6h-4.6zM451.2 114.2h4.6v4.6h-4.6zM451.2 120.2h4.6v4.6h-4.6zM457.2 36.2h4.6v4.6h-4.6zM457.2 42.2h4.6v4.6h-4.6zM457.2 48.2h4.6v4.6h-4.6zM457.2 54.2h4.6v4.6h-4.6zM457.2 60.2h4.6v4.6h-4.6zM457.2 66.2h4.6v4.6h-4.6zM457.2 72.2h4.6v4.6h-4.6zM457.2 78.2h4.6v4.6h-4.6zM457.2 84.2h4.6v4.6h-4.6zM457.2 90.2h4.6v4.6h-4.6zM457.2 96.2h4.6v4.6h-4.6zM457.2 102.2h4.6v4.6h-4.6zM457.2 108.2h4.6v4.6h-4.6zM457.2 114.2h4.6v4.6h-4.6zM457.2 120.2h4.6v4.6h-4.6zM463.2 36.2h4.6v4.6h-4.6zM463.2 42.2h4.6v4.6h-4.6zM463.2 48.2h4.6v4.6h-4.6zM463.2 54.2h4.6v4.6h-4.6zM463.2 60.2h4.6v4.6h-4.6zM463.2 66.2h4.6v4.6h-4.6zM463.2 72.2h4.6v4.6h-4.6zM463.2 78.2h4.6v4.6h-4.6zM463.2 84.2h4.6v4.6h-4.6zM463.2 90.2h4.6v4.6h-4.6zM463.2 96.2h4.6v4.6h-4.6zM463.2 102.2h4.6v4.6h-4.6zM463.2 108.2h4.6v4.6h-4.6zM463.2 114.2h4.6v4.6h-4.6zM463.2 120.2h4.6v4.6h-4.6zM469.2 36.2h4.6v4.6h-4.6zM469.2 42.2h4.6v4.6h-4.6zM469.2 48.2h4.6v4.6h-4.6zM469.2 54.2h4.6v4.6h-4.6zM469.2 60.2h4.6v4.6h-4.6zM469.2 66.2h4.6v4.6h-4.6zM469.2 72.2h4.6v4.6h-4.6zM469.2 78.2h4.6v4.6h-4.6zM469.2 84.2h4.6v4.6h-4.6zM469.2 90.2h4.6v4.6h-4.6zM469.2 96.2h4.6v4.6h-4.6zM469.2 102.2h4.6v4.6h-4.6zM469.2 108.2h4.6v4.6h-4.6zM469.2 114.2h4.6v4.6h-4.6zM469.2 120.2h4.6v4.6h-4.6zM475.2 36.2h4.6v4.6h-4.6zM475.2 42.2h4.6v4.6h-4.6zM475.2 48.2h4.6v4.6h-4.6zM475.2 54.2h4.6v4.6h-4.6zM475.2 60.2h4.6v4.6h-4.6zM475.2 66.2h4.6v4.6h-4.6zM475.2 72.2h4.6v4.6h-4.6zM475.2 78.2h4.6v4.6h-4.6zM475.2 84.2h4.6v4.6h-4.6zM475.2 90.2h4.6v4.6h-4.6zM475.2 96.2h4.6v4.6h-4.6zM475.2 102.2h4.6v4.6h-4.6zM475.2 108.2h4.6v4.6h-4.6zM475.2 114.2h4.6v4.6h-4.6zM475.2 120.2h4.6v4.6h-4.6zM481.2 36.2h4.6v4.6h-4.6zM481.2 42.2h4.6v4.6h-4.6zM481.2 48.2h4.6v4.6h-4.6zM481.2 54.2h4.6v4.6h-4.6zM481.2 60.2h4.6v4.6h-4.6zM481.2 66.2h4.6v4.6h-4.6zM481.2 72.2h4.6v4.6h-4.6zM481.2 78.2h4.6v4.6h-4.6zM481.2 84.2h4.6v4.6h-4.6zM481.2 90.2h4.6v4.6h-4.6zM481.2 96.2h4.6v4.6h-4.6zM481.2 102.2h4.6v4.6h-4.6zM481.2 108.2h4.6v4.6h-4.6zM481.2 114.2h4.6v4.6h-4.6zM481.2 120.2h4.6v4.6h-4.6zM487.2 36.2h4.6v4.6h-4.6zM487.2 42.2h4.6v4.6h-4.6zM487.2 48.2h4.6v4.6h-4.6zM487.2 54.2h4.6v4.6h-4.6zM487.2 60.2h4.6v4.6h-4.6zM487.2 66.2h4.6v4.6h-4.6zM487.2 72.2h4.6v4.6h-4.6zM487.2 78.2h4.6v4.6h-4.6zM487.2 84.2h4.6v4.6h-4.6zM487.2 90.2h4.6v4.6h-4.6zM487.2 96.2h4.6v4.6h-4.6zM487.2 102.2h4.6v4.6h-4.6zM487.2 108.2h4.6v4.6h-4.6zM487.2 114.2h4.6v4.6h-4.6zM487.2 120.2h4.6v4.6h-4.6zM493.2 36.2h4.6v4.6h-4.6zM493.2 42.2h4.6v4.6h-4.6zM493.2 48.2h4.6v4.6h-4.6zM493.2 54.2h4.6v4.6h-4.6zM493.2 60.2h4.6v4.6h-4.6zM493.2 66.2h4.6v4.6h-4.6zM493.2 72.2h4.6v4.6h-4.6zM493.2 78.2h4.6v4.6h-4.6zM493.2 84.2h4.6v4.6h-4.6zM493.2 90.2h4.6v4.6h-4.6zM493.2 96.2h4.6v4.6h-4.6zM493.2 102.2h4.6v4.6h-4.6zM493.2 108.2h4.6v4.6h-4.6zM493.2 114.2h4.6v4.6h-4.6zM493.2 120.2h4.6v4.6h-4.6zM499.2 36.2h4.6v4.6h-4.6zM499.2 42.2h4.6v4.6h-4.6zM499.2 48.2h4.6v4.6h-4.6zM499.2 54.2h4.6v4.6h-4.6zM499.2 60.2h4.6v4.6h-4.6zM499.2 66.2h4.6v4.6h-4.6zM499.2 72.2h4.6v4.6h-4.6zM499.2 78.2h4.6v4.6h-4.6zM499.2 84.2h4.6v4.6h-4.6zM499.2 90.2h4.6v4.6h-4.6zM499.2 96.2h4.6v4.6h-4.6zM499.2 102.2h4.6v4.6h-4.6zM499.2 108.2h4.6v4.6h-4.6zM499.2 114.2h4.6v4.6h-4.6zM499.2 120.2h4.6v4.6h-4.6zM505.2 36.2h4.6v4.6h-4.6zM505.2 42.2h4.6v4.6h-4.6zM505.2 48.2h4.6v4.6h-4.6zM505.2 54.2h4.6v4.6h-4.6zM505.2 60.2h4.6v4.6h-4.6zM505.2 66.2h4.6v4.6h-4.6zM505.2 72.2h4.6v4.6h-4.6zM505.2 78.2h4.6v4.6h-4.6zM505.2 84.2h4.6v4.6h-4.6zM505.2 90.2h4.6v4.6h-4.6zM505.2 96.2h4.6v4.6h-4.6zM505.2 102.2h4.6v4.6h-4.6zM505.2 108.2h4.6v4.6h-4.6zM505.2 114.2h4.6v4.6h-4.6zM505.2 120.2h4.6v4.6h-4.6zM512.2 36.2h4.6v4.6h-4.6zM512.2 42.2h4.6v4.6h-4.6zM512.2 48.2h4.6v4.6h-4.6zM512.2 54.2h4.6v4.6h-4.6zM512.2 60.2h4.6v4.6h-4.6zM512.2 66.2h4.6v4.6h-4.6zM512.2 72.2h4.6v4.6h-4.6zM512.2 78.2h4.6v4.6h-4.6zM512.2 84.2h4.6v4.6h-4.6zM512.2 90.2h4.6v4.6h-4.6zM512.2 96.2h4.6v4.6h-4.6zM512.2 102.2h4.6v4.6h-4.6zM512.2 108.2h4.6v4.6h-4.6zM512.2 114.2h4.6v4.6h-4.6zM512.2 120.2h4.6v4.6h-4.6zM518.2 36.2h4.6v4.6h-4.6zM518.2 42.2h4.6v4.6h-4.6zM518.2 48.2h4.6v4.6h-4.6zM518.2 54.2h4.6v4.6h-4.6zM518.2 60.2h4.6v4.6h-4.6zM518.2 66.2h4.6v4.6h-4.6zM518.2 72.2h4.6v4.6h-4.6zM518.2 78.2h4.6v4.6h-4.6zM518.2 84.2h4.6v4.6h-4.6zM518.2 90.2h4.6v4.6h-4.6zM518.2 96.2h4.6v4.6h-4.6zM518.2 102.2h4.6v4.6h-4.6zM518.2 108.2h4.6v4.6h-4.6zM518.2 114.2h4.6v4.6h-4.6zM518.2 120.2h4.6v4.6h-4.6zM524.2 36.2h4.6v4.6h-4.6zM524.2 42.2h4.6v4.6h-4.6zM524.2 48.2h4.6v4.6h-4.6zM524.2 54.2h4.6v4.6h-4.6zM524.2 60.2h4.6v4.6h-4.6zM524.2 66.2h4.6v4.6h-4.6zM524.2 72.2h4.6v4.6h-4.6zM524.2 78.2h4.6v4.6h-4.6zM524.2 84.2h4.6v4.6h-4.6zM524.2 90.2h4.6v4.6h-4.6zM524.2 96.2h4.6v4.6h-4.6zM524.2 102.2h4.6v4.6h-4.6zM524.2 108.2h4.6v4.6h-4.6zM524.2 114.2h4.6v4.6h-4.6zM524.2 120.2h4.6v4.6h-4.6zM530.2 36.2h4.6v4.6h-4.6zM530.2 42.2h4.6v4.6h-4.6zM530.2 48.2h4.6v4.6h-4.6zM530.2 54.2h4.6v4.6h-4.6zM530.2 60.2h4.6v4.6h-4.6zM530.2 66.2h4.6v4.6h-4.6zM530.2 72.2h4.6v4.6h-4.6zM530.2 78.2h4.6v4.6h-4.6zM530.2 84.2h4.6v4.6h-4.6zM530.2 90.2h4.6v4.6h-4.6zM530.2 96.2h4.6v4.6h-4.6zM530.2 102.2h4.6v4.6h-4.6zM530.2 108.2h4.6v4.6h-4.6zM530.2 114.2h4.6v4.6h-4.6zM530.2 120.2h4.6v4.6h-4.6zM536.2 36.2h4.6v4.6h-4.6zM536.2 42.2h4.6v4.6h-4.6zM536.2 48.2h4.6v4.6h-4.6zM536.2 54.2h4.6v4.6h-4.6zM536.2 60.2h4.6v4.6h-4.6zM536.2 66.2h4.6v4.6h-4.6zM536.2 72.2h4.6v4.6h-4.6zM536.2 78.2h4.6v4.6h-4.6zM536.2 84.2h4.6v4.6h-4.6zM536.2 90.2h4.6v4.6h-4.6zM536.2 96.2h4.6v4.6h-4.6zM536.2 102.2h4.6v4.6h-4.6zM536.2 108.2h4.6v4.6h-4.6zM536.2 114.2h4.6v4.6h-4.6zM536.2 120.2h4.6v4.6h-4.6zM542.2 36.2h4.6v4.6h-4.6zM542.2 42.2h4.6v4.6h-4.6zM542.2 48.2h4.6v4.6h-4.6zM542.2 54.2h4.6v4.6h-4.6zM542.2 60.2h4.6v4.6h-4.6zM542.2 66.2h4.6v4.6h-4.6zM542.2 72.2h4.6v4.6h-4.6zM542.2 78.2h4.6v4.6h-4.6zM542.2 84.2h4.6v4.6h-4.6zM542.2 90.2h4.6v4.6h-4.6zM542.2 96.2h4.6v4.6h-4.6zM542.2 102.2h4.6v4.6h-4.6zM542.2 108.2h4.6v4.6h-4.6zM542.2 114.2h4.6v4.6h-4.6zM542.2 120.2h4.6v4.6h-4.6zM548.2 36.2h4.6v4.6h-4.6zM548.2 42.2h4.6v4.6h-4.6zM548.2 48.2h4.6v4.6h-4.6zM548.2 54.2h4.6v4.6h-4.6zM548.2 60.2h4.6v4.6h-4.6zM548.2 66.2h4.6v4.6h-4.6zM548.2 72.2h4.6v4.6h-4.6zM548.2 78.2h4.6v4.6h-4.6zM548.2 84.2h4.6v4.6h-4.6zM548.2 90.2h4.6v4.6h-4.6zM548.2 96.2h4.6v4.6h-4.6zM548.2 102.2h4.6v4.6h-4.6zM548.2 108.2h4.6v4.6h-4.6zM548.2 114.2h4.6v4.6h-4.6zM548.2 120.2h4.6v4.6h-4.6zM554.2 36.2h4.6v4.6h-4.6zM554.2 42.2h4.6v4.6h-4.6zM554.2 48.2h4.6v4.6h-4.6zM554.2 54.2h4.6v4.6h-4.6zM554.2 60.2h4.6v4.6h-4.6zM554.2 66.2h4.6v4.6h-4.6zM554.2 72.2h4.6v4.6h-4.6zM554.2 78.2h4.6v4.6h-4.6zM554.2 84.2h4.6v4.6h-4.6zM554.2 90.2h4.6v4.6h-4.6zM554.2 96.2h4.6v4.6h-4.6zM554.2 102.2h4.6v4.6h-4.6zM554.2 108.2h4.6v4.6h-4.6zM554.2 114.2h4.6v4.6h-4.6zM554.2 120.2h4.6v4.6h-4.6zM560.2 36.2h4.6v4.6h-4.6zM560.2 42.2h4.6v4.6h-4.6zM560.2 48.2h4.6v4.6h-4.6zM560.2 54.2h4.6v4.6h-4.6zM560.2 60.2h4.6v4.6h-4.6zM560.2 66.2h4.6v4.6h-4.6zM560.2 72.2h4.6v4.6h-4.6zM560.2 78.2h4.6v4.6h-4.6zM560.2 84.2h4.6v4.6h-4.6zM560.2 90.2h4.6v4.6h-4.6zM560.2 96.2h4.6v4.6h-4.6zM560.2 102.2h4.6v4.6h-4.6zM560.2 108.2h4.6v4.6h-4.6zM560.2 114.2h4.6v4.6h-4.6zM560.2 120.2h4.6v4.6h-4.6zM566.2 36.2h4.6v4.6h-4.6zM566.2 42.2h4.6v4.6h-4.6zM566.2 48.2h4.6v4.6h-4.6zM566.2 54.2h4.6v4.6h-4.6zM566.2 60.2h4.6v4.6h-4.6zM566.2 66.2h4.6v4.6h-4.6zM566.2 72.2h4.6v4.6h-4.6zM566.2 78.2h4.6v4.6h-4.6zM566.2 84.2h4.6v4.6h-4.6zM566.2 90.2h4.6v4.6h-4.6zM566.2 96.2h4.6v4.6h-4.6zM566.2 102.2h4.6v4.6h-4.6zM566.2 108.2h4.6v4.6h-4.6zM566.2 114.2h4.6v4.6h-4.6zM566.2 120.2h4.6v4.6h-4.6zM573.2 36.2h4.6v4.6h-4.6zM573.2 42.2h4.6v4.6h-4.6zM573.2 48.2h4.6v4.6h-4.6zM573.2 54.2h4.6v4.6h-4.6zM573.2 60.2h4.6v4.6h-4.6zM573.2 66.2h4.6v4.6h-4.6zM573.2 72.2h4.6v4.6h-4.6zM573.2 78.2h4.6v4.6h-4.6zM573.2 84.2h4.6v4.6h-4.6zM573.2 90.2h4.6v4.6h-4.6zM573.2 96.2h4.6v4.6h-4.6zM573.2 102.2h4.6v4.6h-4.6zM573.2 108.2h4.6v4.6h-4.6zM573.2 114.2h4.6v4.6h-4.6zM573.2 120.2h4.6v4.6h-4.6zM579.2 36.2h4.6v4.6h-4.6zM579.2 42.2h4.6v4.6h-4.6zM579.2 48.2h4.6v4.6h-4.6zM579.2 54.2h4.6v4.6h-4.6zM579.2 60.2h4.6v4.6h-4.6zM579.2 66.2h4.6v4.6h-4.6zM579.2 72.2h4.6v4.6h-4.6zM579.2 78.2h4.6v4.6h-4.6zM579.2 84.2h4.6v4.6h-4.6zM579.2 90.2h4.6v4.6h-4.6zM579.2 96.2h4.6v4.6h-4.6zM579.2 102.2h4.6v4.6h-4.6zM579.2 108.2h4.6v4.6h-4.6zM579.2 114.2h4.6v4.6h-4.6zM579.2 120.2h4.6v4.6h-4.6zM585.2 36.2h4.6v4.6h-4.6zM585.2 42.2h4.6v4.6h-4.6zM585.2 48.2h4.6v4.6h-4.6zM585.2 54.2h4.6v4.6h-4.6zM585.2 60.2h4.6v4.6h-4.6zM585.2 66.2h4.6v4.6h-4.6zM585.2 72.2h4.6v4.6h-4.6zM585.2 78.2h4.6v4.6h-4.6zM585.2 84.2h4.6v4.6h-4.6zM585.2 90.2h4.6v4.6h-4.6zM585.2 96.2h4.6v4.6h-4.6zM585.2 102.2h4.6v4.6h-4.6zM585.2 108.2h4.6v4.6h-4.6zM585.2 114.2h4.6v4.6h-4.6zM585.2 120.2h4.6v4.6h-4.6zM591.2 36.2h4.6v4.6h-4.6zM591.2 42.2h4.6v4.6h-4.6zM591.2 48.2h4.6v4.6h-4.6zM591.2 54.2h4.6v4.6h-4.6zM591.2 60.2h4.6v4.6h-4.6zM591.2 66.2h4.6v4.6h-4.6zM591.2 72.2h4.6v4.6h-4.6zM591.2 78.2h4.6v4.6h-4.6zM591.2 84.2h4.6v4.6h-4.6zM591.2 90.2h4.6v4.6h-4.6zM591.2 96.2h4.6v4.6h-4.6zM591.2 102.2h4.6v4.6h-4.6zM591.2 108.2h4.6v4.6h-4.6zM591.2 114.2h4.6v4.6h-4.6zM591.2 120.2h4.6v4.6h-4.6zM597.2 36.2h4.6v4.6h-4.6zM597.2 42.2h4.6v4.6h-4.6zM597.2 48.2h4.6v4.6h-4.6zM597.2 54.2h4.6v4.6h-4.6zM597.2 60.2h4.6v4.6h-4.6zM597.2 66.2h4.6v4.6h-4.6zM597.2 72.2h4.6v4.6h-4.6zM597.2 78.2h4.6v4.6h-4.6zM597.2 84.2h4.6v4.6h-4.6zM597.2 90.2h4.6v4.6h-4.6zM597.2 96.2h4.6v4.6h-4.6zM597.2 102.2h4.6v4.6h-4.6zM597.2 108.2h4.6v4.6h-4.6zM597.2 114.2h4.6v4.6h-4.6zM597.2 120.2h4.6v4.6h-4.6zM603.2 36.2h4.6v4.6h-4.6zM603.2 42.2h4.6v4.6h-4.6zM603.2 48.2h4.6v4.6h-4.6zM603.2 54.2h4.6v4.6h-4.6zM603.2 60.2h4.6v4.6h-4.6zM603.2 66.2h4.6v4.6h-4.6zM603.2 72.2h4.6v4.6h-4.6zM603.2 78.2h4.6v4.6h-4.6zM603.2 84.2h4.6v4.6h-4.6zM603.2 90.2h4.6v4.6h-4.6zM603.2 96.2h4.6v4.6h-4.6zM603.2 102.2h4.6v4.6h-4.6zM603.2 108.2h4.6v4.6h-4.6zM603.2 114.2h4.6v4.6h-4.6zM603.2 120.2h4.6v4.6h-4.6zM609.2 36.2h4.6v4.6h-4.6zM609.2 42.2h4.6v4.6h-4.6zM609.2 48.2h4.6v4.6h-4.6zM609.2 54.2h4.6v4.6h-4.6zM609.2 60.2h4.6v4.6h-4.6zM609.2 66.2h4.6v4.6h-4.6zM609.2 72.2h4.6v4.6h-4.6zM609.2 78.2h4.6v4.6h-4.6zM609.2 84.2h4.6v4.6h-4.6zM609.2 90.2h4.6v4.6h-4.6zM609.2 96.2h4.6v4.6h-4.6zM609.2 102.2h4.6v4.6h-4.6zM609.2 108.2h4.6v4.6h-4.6zM609.2 114.2h4.6v4.6h-4.6zM609.2 120.2h4.6v4.6h-4.6zM615.2 36.2h4.6v4.6h-4.6zM615.2 42.2h4.6v4.6h-4.6zM615.2 48.2h4.6v4.6h-4.6zM615.2 54.2h4.6v4.6h-4.6zM615.2 60.2h4.6v4.6h-4.6zM615.2 66.2h4.6v4.6h-4.6zM615.2 72.2h4.6v4.6h-4.6zM615.2 78.2h4.6v4.6h-4.6zM615.2 84.2h4.6v4.6h-4.6zM615.2 90.2h4.6v4.6h-4.6zM615.2 96.2h4.6v4.6h-4.6zM615.2 102.2h4.6v4.6h-4.6zM615.2 108.2h4.6v4.6h-4.6zM615.2 114.2h4.6v4.6h-4.6zM615.2 120.2h4.6v4.6h-4.6zM621.2 36.2h4.6v4.6h-4.6zM621.2 42.2h4.6v4.6h-4.6zM621.2 48.2h4.6v4.6h-4.6zM621.2 54.2h4.6v4.6h-4.6zM621.2 60.2h4.6v4.6h-4.6zM621.2 66.2h4.6v4.6h-4.6zM621.2 72.2h4.6v4.6h-4.6zM621.2 78.2h4.6v4.6h-4.6zM621.2 84.2h4.6v4.6h-4.6zM621.2 90.2h4.6v4.6h-4.6zM621.2 96.2h4.6v4.6h-4.6zM621.2 102.2h4.6v4.6h-4.6zM621.2 108.2h4.6v4.6h-4.6zM621.2 114.2h4.6v4.6h-4.6zM621.2 120.2h4.6v4.6h-4.6zM627.2 36.2h4.6v4.6h-4.6zM627.2 42.2h4.6v4.6h-4.6zM627.2 48.2h4.6v4.6h-4.6zM627.2 54.2h4.6v4.6h-4.6zM627.2 60.2h4.6v4.6h-4.6zM627.2 66.2h4.6v4.6h-4.6zM627.2 72.2h4.6v4.6h-4.6zM627.2 78.2h4.6v4.6h-4.6zM627.2 84.2h4.6v4.6h-4.6zM627.2 90.2h4.6v4.6h-4.6zM627.2 96.2h4.6v4.6h-4.6zM627.2 102.2h4.6v4.6h-4.6z" fill="#2b5a8a"/>
<path d="M627.2 108.2h4.6v4.6h-4.6zM627.2 114.2h4.6v4.6h-4.6zM627.2 120.2h4.6v4.6h-4.6zM634.2 36.2h4.6v4.6h-4.6zM634.2 42.2h4.6v4.6h-4.6zM634.2 48.2h4.6v4.6h-4.6zM634.2 54.2h4.6v4.6h-4.6zM634.2 60.2h4.6v4.6h-4.6zM634.2 66.2h4.6v4.6h-4.6zM634.2 72.2h4.6v4.6h-4.6zM634.2 78.2h4.6v4.6h-4.6zM634.2 84.2h4.6v4.6h-4.6zM634.2 90.2h4.6v4.6h-4.6zM634.2 96.2h4.6v4.6h-4.6zM634.2 102.2h4.6v4.6h-4.6zM634.2 108.2h4.6v4.6h-4.6zM634.2 114.2h4.6v4.6h-4.6zM634.2 120.2h4.6v4.6h-4.6zM640.2 36.2h4.6v4.6h-4.6zM640.2 42.2h4.6v4.6h-4.6zM640.2 48.2h4.6v4.6h-4.6zM640.2 54.2h4.6v4.6h-4.6zM640.2 60.2h4.6v4.6h-4.6zM640.2 66.2h4.6v4.6h-4.6zM640.2 72.2h4.6v4.6h-4.6zM640.2 78.2h4.6v4.6h-4.6zM640.2 84.2h4.6v4.6h-4.6zM640.2 90.2h4.6v4.6h-4.6zM640.2 96.2h4.6v4.6h-4.6zM640.2 102.2h4.6v4.6h-4.6zM640.2 108.2h4.6v4.6h-4.6zM640.2 114.2h4.6v4.6h-4.6zM640.2 120.2h4.6v4.6h-4.6zM646.2 36.2h4.6v4.6h-4.6zM646.2 42.2h4.6v4.6h-4.6zM646.2 48.2h4.6v4.6h-4.6zM646.2 54.2h4.6v4.6h-4.6zM646.2 60.2h4.6v4.6h-4.6zM646.2 66.2h4.6v4.6h-4.6zM646.2 72.2h4.6v4.6h-4.6zM646.2 78.2h4.6v4.6h-4.6zM646.2 84.2h4.6v4.6h-4.6zM646.2 90.2h4.6v4.6h-4.6zM646.2 96.2h4.6v4.6h-4.6zM646.2 102.2h4.6v4.6h-4.6zM646.2 108.2h4.6v4.6h-4.6zM646.2 114.2h4.6v4.6h-4.6zM646.2 120.2h4.6v4.6h-4.6zM652.2 36.2h4.6v4.6h-4.6zM652.2 42.2h4.6v4.6h-4.6zM652.2 48.2h4.6v4.6h-4.6zM652.2 54.2h4.6v4.6h-4.6zM652.2 60.2h4.6v4.6h-4.6zM652.2 66.2h4.6v4.6h-4.6zM652.2 72.2h4.6v4.6h-4.6zM652.2 78.2h4.6v4.6h-4.6zM652.2 84.2h4.6v4.6h-4.6zM652.2 90.2h4.6v4.6h-4.6zM652.2 96.2h4.6v4.6h-4.6zM652.2 102.2h4.6v4.6h-4.6zM652.2 108.2h4.6v4.6h-4.6zM652.2 114.2h4.6v4.6h-4.6zM652.2 120.2h4.6v4.6h-4.6zM658.2 36.2h4.6v4.6h-4.6zM658.2 42.2h4.6v4.6h-4.6zM658.2 48.2h4.6v4.6h-4.6zM658.2 54.2h4.6v4.6h-4.6zM658.2 60.2h4.6v4.6h-4.6zM658.2 66.2h4.6v4.6h-4.6zM658.2 72.2h4.6v4.6h-4.6zM658.2 78.2h4.6v4.6h-4.6zM658.2 84.2h4.6v4.6h-4.6zM658.2 90.2h4.6v4.6h-4.6zM658.2 96.2h4.6v4.6h-4.6zM658.2 102.2h4.6v4.6h-4.6zM658.2 108.2h4.6v4.6h-4.6zM658.2 114.2h4.6v4.6h-4.6zM658.2 120.2h4.6v4.6h-4.6zM664.2 36.2h4.6v4.6h-4.6zM664.2 42.2h4.6v4.6h-4.6zM664.2 48.2h4.6v4.6h-4.6zM664.2 54.2h4.6v4.6h-4.6zM664.2 60.2h4.6v4.6h-4.6zM664.2 66.2h4.6v4.6h-4.6zM664.2 72.2h4.6v4.6h-4.6zM664.2 78.2h4.6v4.6h-4.6zM664.2 84.2h4.6v4.6h-4.6zM664.2 90.2h4.6v4.6h-4.6zM664.2 96.2h4.6v4.6h-4.6zM664.2 102.2h4.6v4.6h-4.6zM664.2 108.2h4.6v4.6h-4.6zM664.2 114.2h4.6v4.6h-4.6zM664.2 120.2h4.6v4.6h-4.6zM670.2 36.2h4.6v4.6h-4.6zM670.2 42.2h4.6v4.6h-4.6zM670.2 48.2h4.6v4.6h-4.6zM670.2 54.2h4.6v4.6h-4.6zM670.2 60.2h4.6v4.6h-4.6zM670.2 66.2h4.6v4.6h-4.6zM670.2 72.2h4.6v4.6h-4.6zM670.2 78.2h4.6v4.6h-4.6zM670.2 84.2h4.6v4.6h-4.6zM670.2 90.2h4.6v4.6h-4.6zM670.2 96.2h4.6v4.6h-4.6zM670.2 102.2h4.6v4.6h-4.6zM670.2 108.2h4.6v4.6h-4.6zM670.2 114.2h4.6v4.6h-4.6zM670.2 120.2h4.6v4.6h-4.6zM676.2 36.2h4.6v4.6h-4.6zM676.2 42.2h4.6v4.6h-4.6zM676.2 48.2h4.6v4.6h-4.6zM676.2 54.2h4.6v4.6h-4.6zM676.2 60.2h4.6v4.6h-4.6zM676.2 66.2h4.6v4.6h-4.6zM676.2 72.2h4.6v4.6h-4.6zM676.2 78.2h4.6v4.6h-4.6zM676.2 84.2h4.6v4.6h-4.6zM676.2 90.2h4.6v4.6h-4.6zM676.2 96.2h4.6v4.6h-4.6zM676.2 102.2h4.6v4.6h-4.6zM676.2 108.2h4.6v4.6h-4.6zM676.2 114.2h4.6v4.6h-4.6zM676.2 120.2h4.6v4.6h-4.6zM682.2 36.2h4.6v4.6h-4.6zM682.2 42.2h4.6v4.6h-4.6zM682.2 48.2h4.6v4.6h-4.6zM682.2 54.2h4.6v4.6h-4.6zM682.2 60.2h4.6v4.6h-4.6zM682.2 66.2h4.6v4.6h-4.6zM682.2 72.2h4.6v4.6h-4.6zM682.2 78.2h4.6v4.6h-4.6zM682.2 84.2h4.6v4.6h-4.6zM682.2 90.2h4.6v4.6h-4.6zM682.2 96.2h4.6v4.6h-4.6zM682.2 102.2h4.6v4.6h-4.6zM682.2 108.2h4.6v4.6h-4.6zM682.2 114.2h4.6v4.6h-4.6zM682.2 120.2h4.6v4.6h-4.6zM688.2 36.2h4.6v4.6h-4.6zM688.2 42.2h4.6v4.6h-4.6zM688.2 48.2h4.6v4.6h-4.6zM688.2 54.2h4.6v4.6h-4.6zM688.2 60.2h4.6v4.6h-4.6zM688.2 66.2h4.6v4.6h-4.6zM688.2 72.2h4.6v4.6h-4.6zM688.2 78.2h4.6v4.6h-4.6zM688.2 84.2h4.6v4.6h-4.6zM688.2 90.2h4.6v4.6h-4.6zM688.2 96.2h4.6v4.6h-4.6zM688.2 102.2h4.6v4.6h-4.6zM688.2 108.2h4.6v4.6h-4.6zM688.2 114.2h4.6v4.6h-4.6zM688.2 120.2h4.6v4.6h-4.6zM695.2 36.2h4.6v4.6h-4.6zM695.2 42.2h4.6v4.6h-4.6zM695.2 48.2h4.6v4.6h-4.6zM695.2 54.2h4.6v4.6h-4.6zM695.2 60.2h4.6v4.6h-4.6zM695.2 66.2h4.6v4.6h-4.6zM695.2 72.2h4.6v4.6h-4.6zM695.2 78.2h4.6v4.6h-4.6zM695.2 84.2h4.6v4.6h-4.6zM695.2 90.2h4.6v4.6h-4.6zM695.2 96.2h4.6v4.6h-4.6zM695.2 102.2h4.6v4.6h-4.6zM695.2 108.2h4.6v4.6h-4.6zM695.2 114.2h4.6v4.6h-4.6zM695.2 120.2h4.6v4.6h-4.6zM701.2 36.2h4.6v4.6h-4.6zM701.2 42.2h4.6v4.6h-4.6zM701.2 48.2h4.6v4.6h-4.6zM701.2 54.2h4.6v4.6h-4.6zM701.2 60.2h4.6v4.6h-4.6zM701.2 66.2h4.6v4.6h-4.6zM701.2 72.2h4.6v4.6h-4.6zM701.2 78.2h4.6v4.6h-4.6zM701.2 84.2h4.6v4.6h-4.6zM701.2 90.2h4.6v4.6h-4.6zM701.2 96.2h4.6v4.6h-4.6zM701.2 102.2h4.6v4.6h-4.6zM701.2 108.2h4.6v4.6h-4.6zM701.2 114.2h4.6v4.6h-4.6zM701.2 120.2h4.6v4.6h-4.6zM707.2 36.2h4.6v4.6h-4.6zM707.2 42.2h4.6v4.6h-4.6zM707.2 48.2h4.6v4.6h-4.6zM707.2 54.2h4.6v4.6h-4.6zM707.2 60.2h4.6v4.6h-4.6zM707.2 66.2h4.6v4.6h-4.6zM707.2 72.2h4.6v4.6h-4.6zM707.2 78.2h4.6v4.6h-4.6zM707.2 84.2h4.6v4.6h-4.6zM707.2 90.2h4.6v4.6h-4.6zM707.2 96.2h4.6v4.6h-4.6zM707.2 102.2h4.6v4.6h-4.6zM707.2 108.2h4.6v4.6h-4.6zM707.2 114.2h4.6v4.6h-4.6zM707.2 120.2h4.6v4.6h-4.6zM713.2 36.2h4.6v4.6h-4.6zM713.2 42.2h4.6v4.6h-4.6zM713.2 48.2h4.6v4.6h-4.6zM713.2 54.2h4.6v4.6h-4.6zM713.2 60.2h4.6v4.6h-4.6zM713.2 66.2h4.6v4.6h-4.6zM713.2 72.2h4.6v4.6h-4.6zM713.2 78.2h4.6v4.6h-4.6zM713.2 84.2h4.6v4.6h-4.6zM713.2 90.2h4.6v4.6h-4.6zM713.2 96.2h4.6v4.6h-4.6zM713.2 102.2h4.6v4.6h-4.6zM713.2 108.2h4.6v4.6h-4.6zM713.2 114.2h4.6v4.6h-4.6zM713.2 120.2h4.6v4.6h-4.6zM719.2 36.2h4.6v4.6h-4.6zM719.2 42.2h4.6v4.6h-4.6zM719.2 48.2h4.6v4.6h-4.6zM719.2 54.2h4.6v4.6h-4.6zM719.2 60.2h4.6v4.6h-4.6zM719.2 66.2h4.6v4.6h-4.6zM719.2 72.2h4.6v4.6h-4.6zM719.2 78.2h4.6v4.6h-4.6zM719.2 84.2h4.6v4.6h-4.6zM719.2 90.2h4.6v4.6h-4.6zM719.2 96.2h4.6v4.6h-4.6zM719.2 102.2h4.6v4.6h-4.6zM719.2 108.2h4.6v4.6h-4.6zM719.2 114.2h4.6v4.6h-4.6zM719.2 120.2h4.6v4.6h-4.6zM725.2 36.2h4.6v4.6h-4.6zM725.2 42.2h4.6v4.6h-4.6zM725.2 48.2h4.6v4.6h-4.6zM725.2 54.2h4.6v4.6h-4.6zM725.2 60.2h4.6v4.6h-4.6zM725.2 66.2h4.6v4.6h-4.6zM725.2 72.2h4.6v4.6h-4.6zM725.2 78.2h4.6v4.6h-4.6zM725.2 84.2h4.6v4.6h-4.6zM725.2 90.2h4.6v4.6h-4.6zM725.2 96.2h4.6v4.6h-4.6zM725.2 102.2h4.6v4.6h-4.6zM725.2 108.2h4.6v4.6h-4.6zM725.2 114.2h4.6v4.6h-4.6zM725.2 120.2h4.6v4.6h-4.6zM731.2 36.2h4.6v4.6h-4.6zM731.2 42.2h4.6v4.6h-4.6zM731.2 48.2h4.6v4.6h-4.6zM731.2 54.2h4.6v4.6h-4.6zM731.2 60.2h4.6v4.6h-4.6zM731.2 66.2h4.6v4.6h-4.6zM731.2 72.2h4.6v4.6h-4.6zM731.2 78.2h4.6v4.6h-4.6zM731.2 84.2h4.6v4.6h-4.6zM731.2 90.2h4.6v4.6h-4.6zM731.2 96.2h4.6v4.6h-4.6zM731.2 102.2h4.6v4.6h-4.6zM731.2 108.2h4.6v4.6h-4.6zM731.2 114.2h4.6v4.6h-4.6zM731.2 120.2h4.6v4.6h-4.6zM737.2 36.2h4.6v4.6h-4.6zM737.2 42.2h4.6v4.6h-4.6zM737.2 48.2h4.6v4.6h-4.6zM737.2 54.2h4.6v4.6h-4.6zM737.2 60.2h4.6v4.6h-4.6zM737.2 66.2h4.6v4.6h-4.6zM737.2 72.2h4.6v4.6h-4.6zM737.2 78.2h4.6v4.6h-4.6zM737.2 84.2h4.6v4.6h-4.6zM737.2 90.2h4.6v4.6h-4.6zM737.2 96.2h4.6v4.6h-4.6zM737.2 102.2h4.6v4.6h-4.6zM737.2 108.2h4.6v4.6h-4.6zM737.2 114.2h4.6v4.6h-4.6zM737.2 120.2h4.6v4.6h-4.6zM743.2 36.2h4.6v4.6h-4.6zM743.2 42.2h4.6v4.6h-4.6zM743.2 48.2h4.6v4.6h-4.6zM743.2 54.2h4.6v4.6h-4.6zM743.2 60.2h4.6v4.6h-4.6zM743.2 66.2h4.6v4.6h-4.6zM743.2 72.2h4.6v4.6h-4.6zM743.2 78.2h4.6v4.6h-4.6zM743.2 84.2h4.6v4.6h-4.6zM743.2 90.2h4.6v4.6h-4.6zM743.2 96.2h4.6v4.6h-4.6zM743.2 102.2h4.6v4.6h-4.6zM743.2 108.2h4.6v4.6h-4.6zM743.2 114.2h4.6v4.6h-4.6zM743.2 120.2h4.6v4.6h-4.6zM749.2 36.2h4.6v4.6h-4.6zM749.2 42.2h4.6v4.6h-4.6zM749.2 48.2h4.6v4.6h-4.6zM749.2 54.2h4.6v4.6h-4.6zM749.2 60.2h4.6v4.6h-4.6zM749.2 66.2h4.6v4.6h-4.6zM749.2 72.2h4.6v4.6h-4.6zM749.2 78.2h4.6v4.6h-4.6zM749.2 84.2h4.6v4.6h-4.6zM749.2 90.2h4.6v4.6h-4.6zM749.2 96.2h4.6v4.6h-4.6zM749.2 102.2h4.6v4.6h-4.6zM749.2 108.2h4.6v4.6h-4.6zM749.2 114.2h4.6v4.6h-4.6zM749.2 120.2h4.6v4.6h-4.6zM756.2 36.2h4.6v4.6h-4.6zM756.2 42.2h4.6v4.6h-4.6zM756.2 48.2h4.6v4.6h-4.6zM756.2 54.2h4.6v4.6h-4.6zM756.2 60.2h4.6v4.6h-4.6zM756.2 66.2h4.6v4.6h-4.6zM756.2 72.2h4.6v4.6h-4.6zM756.2 78.2h4.6v4.6h-4.6zM756.2 84.2h4.6v4.6h-4.6zM756.2 90.2h4.6v4.6h-4.6zM756.2 96.2h4.6v4.6h-4.6zM756.2 102.2h4.6v4.6h-4.6zM756.2 108.2h4.6v4.6h-4.6zM756.2 114.2h4.6v4.6h-4.6zM756.2 120.2h4.6v4.6h-4.6zM762.2 36.2h4.6v4.6h-4.6zM762.2 42.2h4.6v4.6h-4.6zM762.2 48.2h4.6v4.6h-4.6zM762.2 54.2h4.6v4.6h-4.6zM762.2 60.2h4.6v4.6h-4.6zM762.2 66.2h4.6v4.6h-4.6zM762.2 72.2h4.6v4.6h-4.6zM762.2 78.2h4.6v4.6h-4.6zM762.2 84.2h4.6v4.6h-4.6zM762.2 90.2h4.6v4.6h-4.6zM762.2 96.2h4.6v4.6h-4.6zM762.2 102.2h4.6v4.6h-4.6zM762.2 108.2h4.6v4.6h-4.6zM762.2 114.2h4.6v4.6h-4.6zM762.2 120.2h4.6v4.6h-4.6zM768.2 36.2h4.6v4.6h-4.6zM768.2 42.2h4.6v4.6h-4.6zM768.2 48.2h4.6v4.6h-4.6zM768.2 54.2h4.6v4.6h-4.6zM768.2 60.2h4.6v4.6h-4.6zM768.2 66.2h4.6v4.6h-4.6zM768.2 72.2h4.6v4.6h-4.6zM768.2 78.2h4.6v4.6h-4.6zM768.2 84.2h4.6v4.6h-4.6zM768.2 90.2h4.6v4.6h-4.6zM768.2 96.2h4.6v4.6h-4.6zM768.2 102.2h4.6v4.6h-4.6zM768.2 108.2h4.6v4.6h-4.6zM768.2 114.2h4.6v4.6h-4.6zM768.2 120.2h4.6v4.6h-4.6zM774.2 36.2h4.6v4.6h-4.6zM774.2 42.2h4.6v4.6h-4.6zM774.2 48.2h4.6v4.6h-4.6zM774.2 54.2h4.6v4.6h-4.6zM774.2 60.2h4.6v4.6h-4.6zM774.2 66.2h4.6v4.6h-4.6zM774.2 72.2h4.6v4.6h-4.6zM774.2 78.2h4.6v4.6h-4.6zM774.2 84.2h4.6v4.6h-4.6zM774.2 90.2h4.6v4.6h-4.6zM774.2 96.2h4.6v4.6h-4.6zM774.2 102.2h4.6v4.6h-4.6zM774.2 108.2h4.6v4.6h-4.6zM774.2 114.2h4.6v4.6h-4.6zM774.2 120.2h4.6v4.6h-4.6zM780.2 36.2h4.6v4.6h-4.6zM780.2 42.2h4.6v4.6h-4.6zM780.2 48.2h4.6v4.6h-4.6zM780.2 54.2h4.6v4.6h-4.6zM780.2 60.2h4.6v4.6h-4.6zM780.2 66.2h4.6v4.6h-4.6zM780.2 72.2h4.6v4.6h-4.6zM780.2 78.2h4.6v4.6h-4.6zM780.2 84.2h4.6v4.6h-4.6zM780.2 90.2h4.6v4.6h-4.6zM780.2 96.2h4.6v4.6h-4.6zM780.2 102.2h4.6v4.6h-4.6zM780.2 108.2h4.6v4.6h-4.6zM780.2 114.2h4.6v4.6h-4.6zM780.2 120.2h4.6v4.6h-4.6zM786.2 36.2h4.6v4.6h-4.6zM786.2 42.2h4.6v4.6h-4.6zM786.2 48.2h4.6v4.6h-4.6zM786.2 54.2h4.6v4.6h-4.6zM786.2 60.2h4.6v4.6h-4.6zM786.2 66.2h4.6v4.6h-4.6zM786.2 72.2h4.6v4.6h-4.6zM786.2 78.2h4.6v4.6h-4.6zM786.2 84.2h4.6v4.6h-4.6zM786.2 90.2h4.6v4.6h-4.6zM786.2 96.2h4.6v4.6h-4.6zM786.2 102.2h4.6v4.6h-4.6zM786.2 108.2h4.6v4.6h-4.6zM786.2 114.2h4.6v4.6h-4.6zM786.2 120.2h4.6v4.6h-4.6zM792.2 36.2h4.6v4.6h-4.6zM792.2 42.2h4.6v4.6h-4.6zM792.2 48.2h4.6v4.6h-4.6zM792.2 54.2h4.6v4.6h-4.6zM792.2 60.2h4.6v4.6h-4.6zM792.2 66.2h4.6v4.6h-4.6zM792.2 72.2h4.6v4.6h-4.6zM792.2 78.2h4.6v4.6h-4.6zM792.2 84.2h4.6v4.6h-4.6zM792.2 90.2h4.6v4.6h-4.6zM792.2 96.2h4.6v4.6h-4.6zM792.2 102.2h4.6v4.6h-4.6zM792.2 108.2h4.6v4.6h-4.6zM792.2 114.2h4.6v4.6h-4.6zM792.2 120.2h4.6v4.6h-4.6zM798.2 36.2h4.6v4.6h-4.6zM798.2 42.2h4.6v4.6h-4.6zM798.2 48.2h4.6v4.6h-4.6zM798.2 54.2h4.6v4.6h-4.6zM798.2 60.2h4.6v4.6h-4.6zM798.2 66.2h4.6v4.6h-4.6zM798.2 72.2h4.6v4.6h-4.6zM798.2 78.2h4.6v4.6h-4.6zM798.2 84.2h4.6v4.6h-4.6zM798.2 90.2h4.6v4.6h-4.6zM798.2 96.2h4.6v4.6h-4.6zM798.2 102.2h4.6v4.6h-4.6zM798.2 108.2h4.6v4.6h-4.6zM798.2 114.2h4.6v4.6h-4.6zM798.2 120.2h4.6v4.6h-4.6zM804.2 36.2h4.6v4.6h-4.6zM804.2 42.2h4.6v4.6h-4.6zM804.2 48.2h4.6v4.6h-4.6zM804.2 54.2h4.6v4.6h-4.6zM804.2 60.2h4.6v4.6h-4.6zM804.2 66.2h4.6v4.6h-4.6zM804.2 72.2h4.6v4.6h-4.6zM804.2 78.2h4.6v4.6h-4.6zM804.2 84.2h4.6v4.6h-4.6zM804.2 90.2h4.6v4.6h-4.6zM804.2 96.2h4.6v4.6h-4.6zM804.2 102.2h4.6v4.6h-4.6zM804.2 108.2h4.6v4.6h-4.6zM804.2 114.2h4.6v4.6h-4.6zM804.2 120.2h4.6v4.6h-4.6zM810.2 36.2h4.6v4.6h-4.6zM810.2 42.2h4.6v4.6h-4.6zM810.2 48.2h4.6v4.6h-4.6zM810.2 54.2h4.6v4.6h-4.6zM810.2 60.2h4.6v4.6h-4.6zM810.2 66.2h4.6v4.6h-4.6zM810.2 72.2h4.6v4.6h-4.6zM810.2 78.2h4.6v4.6h-4.6zM810.2 84.2h4.6v4.6h-4.6zM810.2 90.2h4.6v4.6h-4.6z" fill="#dcdcdc"/>
<path d="M13 129h1v4h-1zM74 129h1v4h-1zM135 129h1v4h-1z" fill="#c4c4c4"/>
<path d="M266 129h1v4h-1zM327 129h1v4h-1zM388 129h1v4h-1zM449 129h1v4h-1zM510 129h1v4h-1zM571 129h1v4h-1zM632 129h1v4h-1zM693 129h1v4h-1zM754 129h1v4h-1z" fill="#c4c4c4"/>
<path d="M706 30h1v4h-1z" fill="#999"/>
</svg>
<div class="t" style="left:15.5px">Projected 2015 shortfall: $418 billion</div>
<div class="t" style="left:268.5px">Projected 2030 shortfall: $1,345 billion</div>
<div class="note">Each box represents $1 billion</div>
<div class="ax" style="left:10.3px">Billions</div><div class="ax c" style="left:74.5px">150</div><div class="ax" style="left:263.3px">Billions</div><div class="ax c" style="left:327.5px">150</div><div class="ax c" style="left:388.5px">300</div><div class="ax c" style="left:449.5px">450</div><div class="ax c" style="left:510.5px">600</div><div class="ax c" style="left:571.5px">750</div><div class="ax c" style="left:693.5px">1,050</div><div class="ax c" style="left:754.5px">1,200</div>
<div class="flag" id="f1" style="left:124px;width:55px"><i style="left:35px"></i>$361 billion</div>
<div class="flag" id="f2" style="left:599px;width:56px;text-indent:-1px"><i style="left:26px"></i>$897 billion</div>
<div class="hr1"></div>
<h2>DOMESTIC PROGRAMS AND FOREIGN AID</h2>
<div class="hr2"></div>
<svg class="icon" style="top:283px" viewBox="0 0 28 28"><rect width="28" height="28" rx="2.5" fill="#1e4b7c"/><path d="M4.5 4.5L23 23M23 4.5L4.5 23" stroke="#fff" stroke-width="4" stroke-linecap="round"/><g stroke-linejoin="round"><path d="M11.2 10.3Q11.2 8.9 12.5 8.9Q13.8 8.9 13.8 10.3L13.8 14.2Q13.9 13.1 15.3 13.1Q16.7 13.2 16.8 14.6Q17 13.7 18.3 13.8Q19.7 13.9 19.8 15.2Q20.1 14.4 21.3 14.6Q22.7 14.8 22.7 16.2L22.7 19Q22.6 21 21 23L20.4 25.1L13.6 25.1L12.4 22.8L8.4 18.5Q7.2 17.2 8.1 16.5Q9 15.9 10 16.8L11.2 17.9Z" fill="#fff" stroke="#000" stroke-width="1.1"/><path d="M15.6 18.3v3.2M17.6 18.3v3.2M19.5 18.3v3.2" stroke="#000" stroke-width="0.9" fill="none"/></g></svg>
<h3 style="top:277px">Cut foreign aid in half</h3>
<p style="top:299.5px">At a time when the United States is facing large deficits, some budget analysts argue that the country should<br>significantly reduce the money it spends helping other countries. Others say that foreign aid already represents a<br>smaller share of the budget here than in other rich countries and that it expands American influence.</p>
<div class="hr3"></div>
<svg class="icon" style="top:396px" viewBox="0 0 28 28"><rect width="28" height="28" rx="2.5" fill="#1e4b7c"/><path d="M4.5 4.5L23 23M23 4.5L4.5 23" stroke="#fff" stroke-width="4" stroke-linecap="round"/></svg>
<h3 style="top:390px;letter-spacing:-0.29px">Eliminate earmarks</h3>
<p style="top:412.5px">Earmarks are lawmaker-directed spending items, often to finance local projects favored by a member of<br>Congress.</p>
</body></html>
